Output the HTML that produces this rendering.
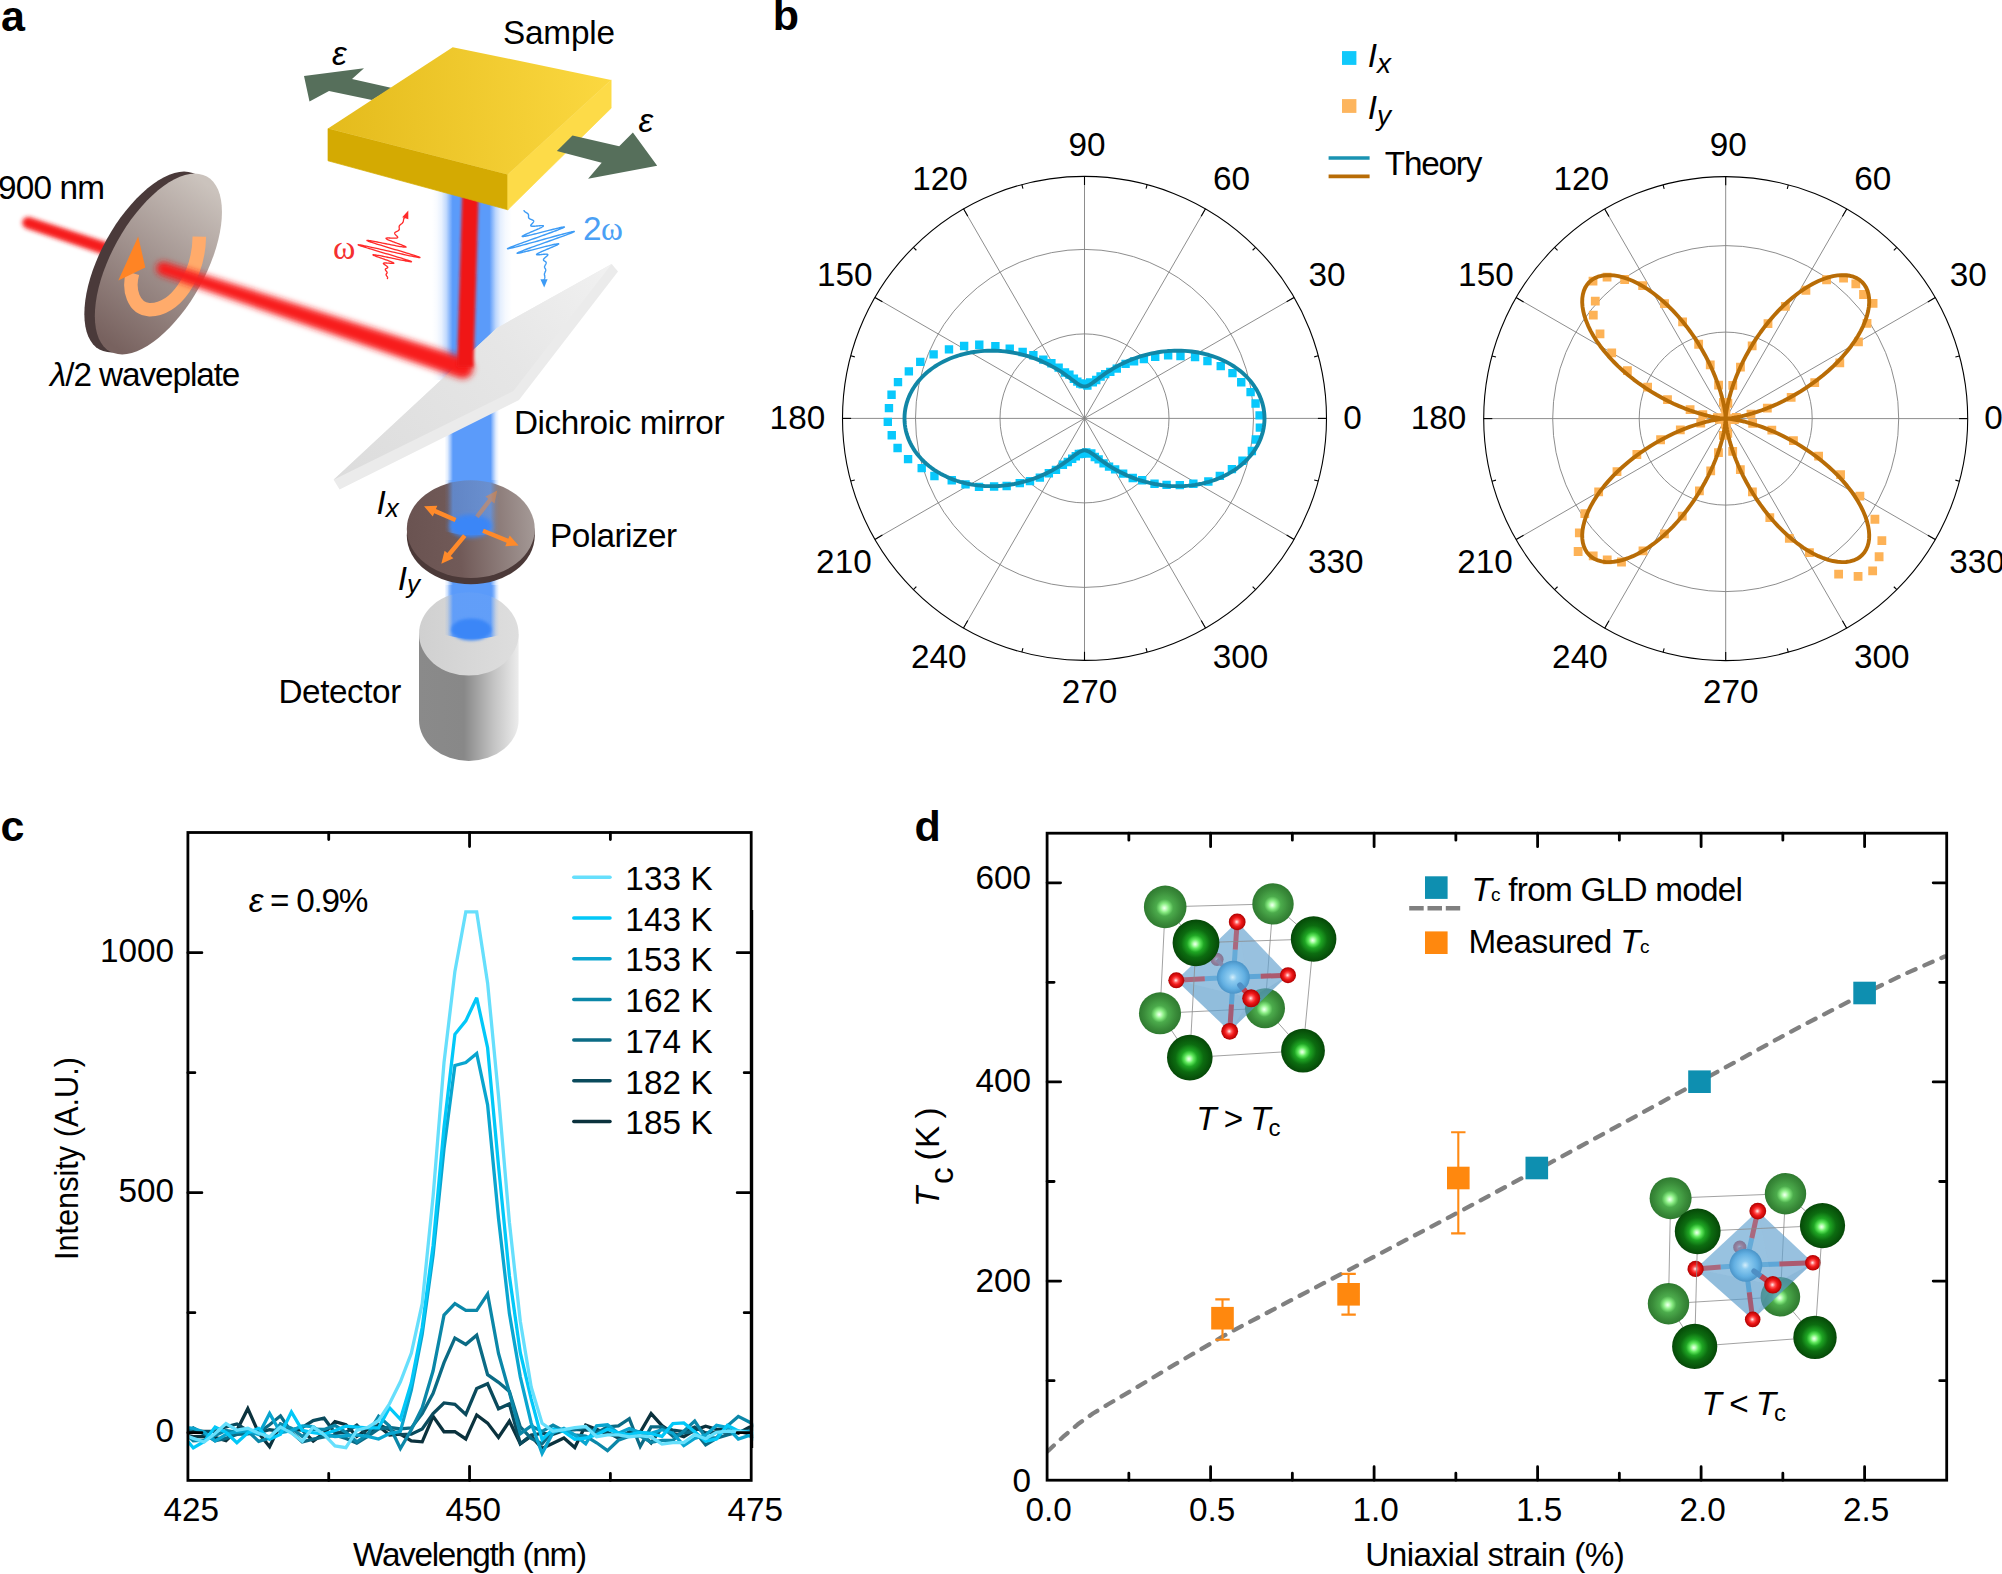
<!DOCTYPE html>
<html lang="en"><head><meta charset="utf-8"><title>Figure</title>
<style>html,body{margin:0;padding:0;background:#fff;}svg{display:block;}</style>
</head><body>
<svg width="2002" height="1574" viewBox="0 0 2002 1574">
<rect width="2002" height="1574" fill="#ffffff"/>
<g id="panel-a">
<defs><linearGradient id="gMir" gradientUnits="userSpaceOnUse" x1="334" y1="480" x2="612" y2="264"><stop offset="0" stop-color="#dcdcdc"/><stop offset="0.6" stop-color="#e6e6e6"/><stop offset="1" stop-color="#f1f1f1"/></linearGradient><linearGradient id="gSlabTop" gradientUnits="userSpaceOnUse" x1="328" y1="120" x2="612" y2="100"><stop offset="0" stop-color="#e4bb1c"/><stop offset="1" stop-color="#fbd840"/></linearGradient><linearGradient id="gWP" gradientUnits="userSpaceOnUse" x1="105" y1="340" x2="215" y2="190"><stop offset="0" stop-color="#78625f"/><stop offset="0.5" stop-color="#a1928e"/><stop offset="1" stop-color="#cbc3bd"/></linearGradient><linearGradient id="gPol" gradientUnits="userSpaceOnUse" x1="407" y1="530" x2="535" y2="520"><stop offset="0" stop-color="#6a5351"/><stop offset="0.4" stop-color="#715a58"/><stop offset="1" stop-color="#a59a97"/></linearGradient><linearGradient id="gDet" gradientUnits="userSpaceOnUse" x1="419" y1="0" x2="519" y2="0"><stop offset="0" stop-color="#8a8a8a"/><stop offset="0.45" stop-color="#888888"/><stop offset="0.75" stop-color="#c4c4c4"/><stop offset="1" stop-color="#ededed"/></linearGradient><linearGradient id="gDetTop" gradientUnits="userSpaceOnUse" x1="419" y1="0" x2="519" y2="0"><stop offset="0" stop-color="#d0d0d0"/><stop offset="1" stop-color="#dedede"/></linearGradient><linearGradient id="gBlueH" gradientUnits="userSpaceOnUse" x1="436" y1="0" x2="510" y2="0"><stop offset="0.0000" stop-color="#5b9bfa" stop-opacity="0"/><stop offset="0.1149" stop-color="#5b9bfa" stop-opacity="0"/><stop offset="0.1554" stop-color="#5b9bfa" stop-opacity="0.18"/><stop offset="0.1959" stop-color="#5b9bfa" stop-opacity="0.6"/><stop offset="0.2297" stop-color="#5b9bfa" stop-opacity="1"/><stop offset="0.7378" stop-color="#5b9bfa" stop-opacity="1"/><stop offset="0.7703" stop-color="#5b9bfa" stop-opacity="0.6"/><stop offset="0.8108" stop-color="#5b9bfa" stop-opacity="0.18"/><stop offset="0.8514" stop-color="#5b9bfa" stop-opacity="0"/><stop offset="1.0000" stop-color="#5b9bfa" stop-opacity="0"/></linearGradient><linearGradient id="gBlueH2" gradientUnits="userSpaceOnUse" x1="432" y1="0" x2="516" y2="0"><stop offset="0.0000" stop-color="#5b9bfa" stop-opacity="0"/><stop offset="0.0560" stop-color="#5b9bfa" stop-opacity="0.04"/><stop offset="0.1131" stop-color="#5b9bfa" stop-opacity="0.14"/><stop offset="0.1702" stop-color="#5b9bfa" stop-opacity="0.38"/><stop offset="0.2143" stop-color="#5b9bfa" stop-opacity="0.75"/><stop offset="0.2464" stop-color="#5b9bfa" stop-opacity="1"/><stop offset="0.6833" stop-color="#5b9bfa" stop-opacity="1"/><stop offset="0.7143" stop-color="#5b9bfa" stop-opacity="0.75"/><stop offset="0.7595" stop-color="#5b9bfa" stop-opacity="0.4"/><stop offset="0.8155" stop-color="#5b9bfa" stop-opacity="0.16"/><stop offset="0.8738" stop-color="#5b9bfa" stop-opacity="0.06"/><stop offset="0.9500" stop-color="#5b9bfa" stop-opacity="0"/></linearGradient><filter id="blur2" filterUnits="userSpaceOnUse" x="0" y="150" width="700" height="520"><feGaussianBlur stdDeviation="2"/></filter><filter id="blur3" filterUnits="userSpaceOnUse" x="0" y="150" width="700" height="520"><feGaussianBlur stdDeviation="3"/></filter><filter id="blur1" filterUnits="userSpaceOnUse" x="0" y="150" width="700" height="520"><feGaussianBlur stdDeviation="1.7"/></filter><filter id="blur4" filterUnits="userSpaceOnUse" x="0" y="150" width="700" height="520"><feGaussianBlur stdDeviation="4"/></filter></defs>
<rect x="432" y="190" width="84" height="190" fill="url(#gBlueH2)"/>
<rect x="436" y="380" width="74" height="255" fill="url(#gBlueH)"/>
<polygon points="333.6,479.8 497,328 611.7,264 618,271.5 519,400 339.6,489.6" fill="#ebebeb"/>
<polygon points="333.6,479.8 497,328 611.7,264 513.4,391" fill="url(#gMir)"/>
<g filter="url(#blur2)" fill="#f61c1c"><polygon points="26.18,228.25 147.94,269.67 152.06,257.33 29.82,217.35"/><circle cx="28" cy="222.8" r="5.75"/><circle cx="150" cy="263.5" r="6.5"/></g>
<polygon points="196.38,174.54 199.78,176.86 202.78,179.82 205.37,183.42 207.52,187.61 209.21,192.36 210.44,197.65 211.19,203.42 211.46,209.65 211.25,216.27 210.55,223.24 209.38,230.5 207.74,238 205.64,245.69 203.11,253.5 200.15,261.37 196.8,269.25 193.08,277.08 189.01,284.79 184.63,292.32 179.96,299.63 175.06,306.65 169.95,313.33 164.67,319.61 159.26,325.46 153.77,330.83 148.23,335.67 142.69,339.96 137.18,343.65 131.76,346.71 126.47,349.14 121.33,350.9 116.4,351.98 111.71,352.38 107.29,352.09 103.19,351.12 99.42,349.46 96.02,347.14 93.02,344.18 90.43,340.58 88.28,336.39 86.59,331.64 85.36,326.35 84.61,320.58 84.34,314.35 84.55,307.73 85.25,300.76 86.42,293.5 88.06,286 90.16,278.31 92.69,270.5 95.65,262.63 99,254.75 102.72,246.92 106.79,239.21 111.17,231.68 115.84,224.37 120.74,217.35 125.85,210.67 131.13,204.39 136.54,198.54 142.03,193.17 147.57,188.33 153.11,184.04 158.62,180.35 164.04,177.29 169.33,174.86 174.47,173.1 179.4,172.02 184.09,171.62 188.51,171.91 192.61,172.88" fill="#4a3a3a"/>
<polygon points="206.88,176.54 210.28,178.86 213.28,181.82 215.87,185.42 218.02,189.61 219.71,194.36 220.94,199.65 221.69,205.42 221.96,211.65 221.75,218.27 221.05,225.24 219.88,232.5 218.24,240 216.14,247.69 213.61,255.5 210.65,263.37 207.3,271.25 203.58,279.08 199.51,286.79 195.13,294.32 190.46,301.63 185.56,308.65 180.45,315.33 175.17,321.61 169.76,327.46 164.27,332.83 158.73,337.67 153.19,341.96 147.68,345.65 142.26,348.71 136.97,351.14 131.83,352.9 126.9,353.98 122.21,354.38 117.79,354.09 113.69,353.12 109.92,351.46 106.52,349.14 103.52,346.18 100.93,342.58 98.78,338.39 97.09,333.64 95.86,328.35 95.11,322.58 94.84,316.35 95.05,309.73 95.75,302.76 96.92,295.5 98.56,288 100.66,280.31 103.19,272.5 106.15,264.63 109.5,256.75 113.22,248.92 117.29,241.21 121.67,233.68 126.34,226.37 131.24,219.35 136.35,212.67 141.63,206.39 147.04,200.54 152.53,195.17 158.07,190.33 163.61,186.04 169.12,182.35 174.54,179.29 179.83,176.86 184.97,175.1 189.9,174.02 194.59,173.62 199.01,173.91 203.11,174.88" fill="url(#gWP)"/>
<path d="M199.33 236.56 C198.54 277.06 174.71 310.42 149.3 309.63 C133.42 308.83 127.86 289.77 132.62 273.09" fill="none" stroke="#ffab6b" stroke-width="13.5"/>
<polygon points="138.18,236.56 118.33,280.56 145.33,267.53" fill="#ff8424"/>
<g filter="url(#blur3)" fill="#f81c1c"><polygon points="160.87,275.01 459.77,377.93 466.23,358.47 165.13,262.19"/><circle cx="163" cy="268.6" r="6.75"/><circle cx="463" cy="368.2" r="10.25"/></g>
<line x1="465.3" y1="367" x2="470.4" y2="195" stroke="#f01418" stroke-width="16.5" filter="url(#blur1)"/>
<polygon points="304,76 364,68.2 352,79 392,88 372,100 329,91 309.5,101.4" fill="#566f5b"/>
<polygon points="328,128.6 507.8,174.4 507.8,209.8 328,160.8" fill="#d4aa02" stroke="#d4aa02" stroke-width="0.7"/>
<polygon points="507.8,174.4 611.1,79.9 611.1,108.2 507.8,209.8" fill="#fddb48" stroke="#fddb48" stroke-width="0.7"/>
<polygon points="452.7,47.2 611.1,79.9 507.8,174.4 328,128.6" fill="url(#gSlabTop)"/>
<polygon points="572.5,135.5 619.2,146.2 632.9,132.5 657.2,165.7 588.1,178.7 601.7,162.7 556.9,151" fill="#566f5b"/>
<ellipse cx="470.8" cy="535.5" rx="64" ry="48.8" fill="#4b3938"/>
<ellipse cx="470.8" cy="529.1" rx="64" ry="48.8" fill="url(#gPol)"/>
<path d="M436,480H510V524A37,11 0 0 1 436,524Z" fill="url(#gBlueH)" opacity="0.68"/>
<ellipse cx="470.8" cy="526" rx="21" ry="11.5" fill="#3b86f7" filter="url(#blur2)"/>
<polygon points="456.44,517.96 435.94,509.1 437.35,505.84 424.05,506.36 432.78,516.4 434.19,513.14 454.69,522" fill="#ff8a2a" opacity="1"/>
<polygon points="482.18,532.8 506.67,542.87 505.32,546.15 518.6,545.4 509.69,535.52 508.34,538.8 483.85,528.73" fill="#ff8a2a" opacity="1"/>
<polygon points="463.03,534.23 447.33,553.07 444.6,550.8 441.33,563.7 453.43,558.16 450.71,555.89 466.41,537.05" fill="#ff8a2a" opacity="1"/>
<polygon points="478.66,518.28 491.68,501.35 494.49,503.52 497.25,490.5 485.38,496.51 488.19,498.67 475.17,515.59" fill="#ff8a2a" opacity="0.45"/>
<path d="M419,634 L419,720 A49.8,41 0 0 0 518.6,720 L518.6,634 Z" fill="url(#gDet)"/>
<ellipse cx="468.8" cy="633.9" rx="49.8" ry="41.7" fill="url(#gDetTop)"/>
<path d="M436,585H510V627.5A37,11 0 0 1 436,627.5Z" fill="url(#gBlueH)" opacity="0.95"/>
<ellipse cx="471.3" cy="629.5" rx="20" ry="11" fill="#3b86f7" filter="url(#blur1)"/>
<polyline points="387.4,278.6 387.42,278.54 387.44,278.48 387.46,278.43 387.49,278.37 387.51,278.31 387.53,278.25 387.55,278.19 387.56,278.13 387.58,278.07 387.59,278.01 387.6,277.95 387.61,277.88 387.62,277.82 387.62,277.76 387.62,277.69 387.61,277.63 387.61,277.56 387.59,277.49 387.58,277.42 387.56,277.35 387.54,277.28 387.51,277.21 387.48,277.13 387.45,277.06 387.41,276.98 387.37,276.91 387.32,276.83 387.28,276.75 387.23,276.67 387.17,276.59 387.12,276.51 387.06,276.43 387.01,276.35 386.95,276.27 386.89,276.18 386.82,276.1 386.76,276.02 386.7,275.94 386.64,275.85 386.58,275.77 386.53,275.69 386.47,275.61 386.42,275.53 386.37,275.45 386.32,275.37 386.28,275.29 386.24,275.21 386.2,275.13 386.17,275.05 386.14,274.98 386.11,274.9 386.1,274.83 386.08,274.76 386.07,274.69 386.07,274.62 386.07,274.55 386.08,274.48 386.09,274.42 386.1,274.35 386.12,274.29 386.15,274.22 386.18,274.16 386.21,274.1 386.25,274.04 386.29,273.98 386.33,273.92 386.37,273.87 386.42,273.81 386.47,273.75 386.52,273.7 386.57,273.64 386.63,273.58 386.68,273.52 386.73,273.47 386.78,273.41 386.83,273.35 386.87,273.29 386.92,273.23 386.96,273.17 387,273.11 387.03,273.05 387.06,272.99 387.09,272.92 387.11,272.86 387.12,272.79 387.13,272.72 387.14,272.65 387.13,272.58 387.13,272.5 387.11,272.43 387.09,272.35 387.07,272.27 387.04,272.19 387,272.11 386.96,272.03 386.91,271.94 386.86,271.86 386.8,271.77 386.74,271.68 386.68,271.59 386.61,271.5 386.54,271.41 386.46,271.32 386.39,271.23 386.31,271.13 386.23,271.04 386.15,270.95 386.07,270.85 385.99,270.76 385.92,270.67 385.84,270.57 385.77,270.48 385.7,270.39 385.64,270.3 385.58,270.21 385.52,270.12 385.47,270.03 385.43,269.95 385.39,269.86 385.36,269.78 385.33,269.7 385.31,269.62 385.3,269.54 385.3,269.47 385.31,269.39 385.32,269.32 385.34,269.25 385.37,269.18 385.4,269.12 385.45,269.05 385.5,268.99 385.56,268.93 385.63,268.87 385.7,268.82 385.78,268.76 385.86,268.71 385.95,268.65 386.05,268.6 386.15,268.55 386.25,268.5 386.35,268.45 386.46,268.4 386.57,268.35 386.67,268.3 386.78,268.25 386.89,268.21 386.99,268.16 387.09,268.1 387.19,268.05 387.28,268 387.37,267.94 387.45,267.89 387.52,267.83 387.59,267.77 387.65,267.71 387.69,267.64 387.73,267.57 387.76,267.5 387.77,267.43 387.78,267.35 387.77,267.27 387.75,267.19 387.72,267.1 387.67,267.01 387.61,266.91 387.54,266.82 387.45,266.71 387.35,266.61 387.24,266.5 387.12,266.39 386.98,266.28 386.83,266.16 386.68,266.04 386.51,265.92 386.34,265.79 386.16,265.67 385.97,265.54 385.77,265.41 385.58,265.28 385.38,265.15 385.18,265.02 384.98,264.88 384.79,264.75 384.6,264.62 384.42,264.5 384.24,264.37 384.08,264.25 383.92,264.13 383.79,264.01 383.66,263.9 383.56,263.79 383.48,263.69 383.41,263.59 383.37,263.5 383.36,263.42 383.37,263.34 383.41,263.27 383.48,263.2 383.57,263.14 383.7,263.09 383.86,263.05 384.04,263.02 384.26,262.99 384.51,262.98 384.79,262.97 385.09,262.96 385.43,262.97 385.79,262.98 386.17,262.99 386.58,263.01 387,263.04 387.45,263.07 387.9,263.11 388.37,263.15 388.84,263.18 389.32,263.22 389.79,263.26 390.26,263.3 390.72,263.34 391.17,263.37 391.59,263.39 392,263.42 392.37,263.43 392.72,263.43 393.02,263.43 393.29,263.41 393.5,263.38 393.67,263.34 393.78,263.29 393.84,263.22 393.84,263.13 393.77,263.03 393.64,262.91 393.44,262.77 393.17,262.62 392.84,262.45 392.43,262.26 391.96,262.05 391.42,261.83 390.82,261.59 390.16,261.33 389.44,261.06 388.66,260.77 387.84,260.47 386.97,260.16 386.07,259.84 385.13,259.52 384.17,259.18 383.2,258.85 382.22,258.51 381.24,258.17 380.27,257.83 379.33,257.5 378.41,257.18 377.53,256.86 376.7,256.56 375.93,256.28 375.23,256.01 374.61,255.76 374.07,255.53 373.62,255.33 373.28,255.15 373.04,255 372.92,254.89 372.92,254.8 373.04,254.74 373.29,254.72 373.67,254.73 374.18,254.77 374.82,254.85 375.59,254.96 376.49,255.1 377.51,255.28 378.64,255.48 379.89,255.72 381.25,255.98 382.7,256.26 384.23,256.57 385.84,256.9 387.51,257.24 389.23,257.6 390.99,257.96 392.76,258.33 394.55,258.7 396.32,259.07 398.06,259.43 399.77,259.78 401.41,260.11 402.99,260.43 404.47,260.72 405.84,260.99 407.1,261.22 408.22,261.42 409.2,261.58 410.01,261.7 410.66,261.78 411.13,261.81 411.41,261.79 411.49,261.72 411.38,261.6 411.07,261.43 410.55,261.21 409.84,260.93 408.92,260.6 407.81,260.22 406.5,259.8 405.02,259.32 403.37,258.8 401.56,258.24 399.6,257.65 397.51,257.02 395.31,256.36 393.01,255.67 390.64,254.96 388.21,254.24 385.74,253.51 383.25,252.78 380.77,252.05 378.32,251.32 375.92,250.61 373.59,249.91 371.36,249.24 369.24,248.6 367.26,248 365.43,247.43 363.77,246.91 362.3,246.44 361.04,246.02 359.99,245.65 359.16,245.35 358.58,245.1 358.24,244.92 358.15,244.81 358.31,244.75 358.73,244.77 359.4,244.84 360.31,244.99 361.46,245.19 362.85,245.45 364.46,245.77 366.28,246.15 368.29,246.57 370.47,247.04 372.82,247.55 375.31,248.1 377.91,248.68 380.61,249.28 383.38,249.9 386.2,250.54 389.05,251.18 391.9,251.81 394.72,252.45 397.49,253.07 400.19,253.67 402.8,254.25 405.28,254.79 407.63,255.3 409.82,255.77 411.83,256.2 413.65,256.57 415.26,256.89 416.65,257.15 417.81,257.35 418.73,257.49 419.4,257.57 419.82,257.58 419.98,257.53 419.9,257.41 419.56,257.22 418.98,256.98 418.17,256.67 417.12,256.3 415.86,255.88 414.4,255.4 412.75,254.88 410.93,254.31 408.95,253.7 406.84,253.06 404.61,252.39 402.29,251.69 399.9,250.97 397.45,250.24 394.98,249.51 392.51,248.77 390.05,248.03 387.62,247.31 385.25,246.6 382.97,245.91 380.77,245.24 378.7,244.61 376.75,244.01 374.95,243.44 373.31,242.92 371.83,242.44 370.54,242.01 369.44,241.62 368.54,241.29 367.83,241.01 367.33,240.78 367.03,240.6 366.93,240.47 367.03,240.4 367.32,240.37 367.8,240.4 368.46,240.47 369.29,240.58 370.28,240.74 371.42,240.93 372.69,241.16 374.08,241.41 375.57,241.7 377.16,242.01 378.82,242.34 380.54,242.68 382.3,243.03 384.09,243.39 385.89,243.76 387.68,244.12 389.45,244.47 391.19,244.82 392.88,245.15 394.51,245.47 396.06,245.77 397.53,246.05 398.9,246.3 400.17,246.53 401.32,246.72 402.36,246.89 403.28,247.02 404.07,247.12 404.73,247.19 405.26,247.22 405.66,247.22 405.93,247.19 406.07,247.12 406.09,247.03 405.99,246.9 405.78,246.74 405.45,246.55 405.03,246.34 404.51,246.1 403.91,245.84 403.23,245.56 402.48,245.27 401.68,244.95 400.83,244.63 399.93,244.29 399.01,243.95 398.07,243.6 397.11,243.25 396.16,242.9 395.21,242.55 394.28,242.21 393.37,241.87 392.49,241.53 391.65,241.21 390.85,240.9 390.1,240.6 389.41,240.32 388.77,240.05 388.2,239.79 387.69,239.56 387.24,239.34 386.87,239.13 386.56,238.95 386.32,238.78 386.15,238.63 386.05,238.5 386.01,238.38 386.03,238.28 386.12,238.2 386.26,238.13 386.46,238.07 386.71,238.03 387,238 387.34,237.98 387.71,237.97 388.12,237.97 388.56,237.97 389.02,237.98 389.49,238 389.99,238.02 390.49,238.04 391,238.06 391.51,238.09 392.01,238.11 392.51,238.13 393,238.15 393.48,238.16 393.94,238.18 394.38,238.18 394.8,238.18 395.19,238.17 395.56,238.16 395.9,238.14 396.22,238.11 396.5,238.08 396.76,238.03 396.98,237.98 397.17,237.92 397.34,237.86 397.47,237.78 397.58,237.7 397.65,237.61 397.7,237.51 397.73,237.41 397.72,237.3 397.7,237.18 397.66,237.06 397.59,236.94 397.51,236.8 397.41,236.67 397.3,236.53 397.17,236.39 397.04,236.24 396.9,236.09 396.75,235.95 396.6,235.79 396.44,235.64 396.28,235.49 396.13,235.34 395.97,235.19 395.82,235.04 395.68,234.89 395.54,234.74 395.41,234.6 395.28,234.46 395.17,234.31 395.07,234.18 394.98,234.04 394.9,233.91 394.83,233.78 394.78,233.65 394.74,233.53 394.71,233.41 394.7,233.3 394.7,233.18 394.71,233.07 394.73,232.97 394.77,232.86 394.82,232.76 394.89,232.67 394.96,232.57 395.04,232.48 395.14,232.39 395.25,232.31 395.36,232.22 395.48,232.14 395.61,232.06 395.75,231.98 395.89,231.91 396.04,231.83 396.19,231.76 396.34,231.68 396.5,231.61 396.66,231.53 396.82,231.46 396.97,231.39 397.13,231.31 397.29,231.24 397.44,231.17 397.59,231.09 397.74,231.01 397.88,230.93 398.02,230.85 398.15,230.77 398.28,230.69 398.4,230.61 398.51,230.52 398.62,230.43 398.72,230.34 398.81,230.25 398.89,230.16 398.97,230.06 399.04,229.96 399.1,229.86 399.15,229.76 399.19,229.65 399.23,229.55 399.26,229.44 399.29,229.33 399.31,229.22 399.32,229.1 399.33,228.99 399.33,228.87 399.33,228.76 399.32,228.64 399.31,228.52 399.3,228.4 399.28,228.28 399.26,228.15 399.25,228.03 399.23,227.91 399.21,227.79 399.19,227.66 399.17,227.54 399.16,227.42 399.14,227.3 399.13,227.18 399.13,227.06 399.12,226.94 399.12,226.82 399.13,226.7 399.14,226.59 399.15,226.47 399.18,226.36 399.2,226.25 399.24,226.14 399.27,226.03 399.32,225.92 399.37,225.81 399.43,225.71 399.49,225.61 399.56,225.5 399.64,225.4 399.72,225.31 399.8,225.21 399.89,225.11 399.99,225.02 400.09,224.92 400.19,224.83 400.3,224.74 400.41,224.65 400.53,224.55 400.64,224.46 400.76,224.37 400.88,224.28 401,224.19 401.12,224.1 401.24,224.01 401.36,223.92 401.48,223.83 401.6,223.74 401.71,223.65 401.83,223.56 401.94,223.47 402.04,223.37 402.15,223.28 402.25,223.18 402.34,223.09 402.44,222.99 402.52,222.89 402.61,222.79 402.68,222.68 402.76,222.58 402.83,222.48 402.89,222.37 402.95,222.26 403.01,222.16 403.06,222.05 403.1,221.93 403.14,221.82 403.18,221.71 403.21,221.59 403.25,221.48 403.27,221.36 403.3,221.25 403.32,221.13 403.34,221.01 403.36,220.89 403.38,220.77 403.4,220.65 403.41,220.53 403.43,220.41 403.45,220.29 403.46,220.17 403.48,220.05 403.5,219.94 403.52,219.82 403.55,219.7 403.57,219.58 403.6,219.46 403.64,219.35 403.67,219.23 403.71,219.12 403.75,219 403.8,218.89 403.85,218.78 403.91,218.67 403.96,218.55 404.03,218.45 404.09,218.34 404.16,218.23 404.24,218.12 404.32,218.02 404.4,217.91 404.48,217.81 404.57,217.7 404.66,217.6 404.76,217.5 404.85,217.4 404.95,217.3 405.06,217.2 405.16,217.1 405.26,217 405.37,216.9 405.48,216.8 405.58,216.7 405.69,216.6 405.8,216.5" fill="none" stroke="#ff2a2a" stroke-width="1.3" stroke-linejoin="round" stroke-linecap="round"/>
<polygon points="408.3,210.5 402.2,217.3 408.3,219.2" fill="#ff2a2a"/>
<polyline points="524.05,210.67 524.11,210.77 524.17,210.87 524.24,210.97 524.31,211.07 524.38,211.17 524.46,211.26 524.55,211.36 524.63,211.45 524.73,211.54 524.83,211.63 524.93,211.71 525.03,211.8 525.14,211.89 525.26,211.97 525.38,212.05 525.5,212.13 525.62,212.21 525.74,212.29 525.87,212.37 526,212.45 526.13,212.53 526.26,212.61 526.39,212.69 526.52,212.77 526.65,212.84 526.78,212.92 526.91,213 527.03,213.08 527.15,213.16 527.27,213.25 527.38,213.33 527.49,213.41 527.6,213.5 527.7,213.59 527.8,213.67 527.89,213.76 527.97,213.86 528.05,213.95 528.13,214.05 528.19,214.14 528.26,214.24 528.31,214.34 528.36,214.45 528.4,214.55 528.44,214.66 528.47,214.77 528.5,214.88 528.52,214.99 528.54,215.1 528.55,215.22 528.56,215.33 528.56,215.45 528.56,215.57 528.56,215.69 528.56,215.81 528.55,215.93 528.54,216.05 528.54,216.17 528.53,216.29 528.52,216.41 528.51,216.53 528.51,216.65 528.51,216.77 528.51,216.89 528.51,217 528.52,217.12 528.53,217.23 528.55,217.34 528.57,217.45 528.6,217.56 528.63,217.67 528.68,217.78 528.72,217.88 528.78,217.98 528.84,218.08 528.91,218.17 528.99,218.26 529.08,218.36 529.17,218.44 529.27,218.53 529.38,218.61 529.5,218.69 529.62,218.77 529.75,218.85 529.88,218.92 530.03,219 530.17,219.07 530.33,219.14 530.48,219.2 530.64,219.27 530.81,219.34 530.97,219.4 531.14,219.47 531.31,219.53 531.48,219.59 531.65,219.66 531.82,219.72 531.98,219.79 532.15,219.85 532.3,219.92 532.46,219.99 532.61,220.06 532.75,220.13 532.88,220.21 533.01,220.28 533.12,220.36 533.23,220.45 533.33,220.53 533.41,220.62 533.49,220.72 533.55,220.81 533.6,220.91 533.63,221.02 533.66,221.13 533.67,221.24 533.66,221.36 533.64,221.48 533.61,221.61 533.56,221.74 533.51,221.87 533.43,222.01 533.35,222.16 533.25,222.3 533.15,222.45 533.03,222.61 532.9,222.76 532.77,222.92 532.62,223.08 532.48,223.24 532.32,223.41 532.17,223.57 532.01,223.74 531.86,223.9 531.71,224.07 531.56,224.23 531.42,224.39 531.28,224.55 531.16,224.7 531.05,224.85 530.95,225 530.87,225.14 530.81,225.27 530.77,225.4 530.75,225.52 530.75,225.64 530.78,225.74 530.84,225.84 530.92,225.93 531.04,226.01 531.19,226.08 531.36,226.14 531.57,226.19 531.81,226.23 532.09,226.26 532.39,226.28 532.73,226.29 533.09,226.29 533.49,226.28 533.91,226.26 534.36,226.23 534.83,226.2 535.32,226.16 535.83,226.12 536.36,226.07 536.89,226.01 537.44,225.96 537.98,225.9 538.53,225.84 539.07,225.79 539.6,225.74 540.12,225.69 540.61,225.65 541.08,225.61 541.52,225.59 541.93,225.58 542.3,225.58 542.62,225.59 542.89,225.62 543.11,225.66 543.27,225.73 543.37,225.81 543.41,225.91 543.38,226.04 543.27,226.18 543.1,226.35 542.86,226.55 542.54,226.76 542.14,227 541.68,227.26 541.14,227.54 540.53,227.85 539.86,228.17 539.13,228.52 538.33,228.88 537.49,229.26 536.6,229.66 535.66,230.06 534.7,230.48 533.71,230.91 532.7,231.34 531.68,231.77 530.67,232.2 529.66,232.63 528.68,233.06 527.73,233.47 526.82,233.87 525.96,234.25 525.17,234.62 524.44,234.96 523.8,235.27 523.25,235.56 522.8,235.81 522.46,236.04 522.23,236.22 522.13,236.37 522.15,236.47 522.31,236.54 522.61,236.56 523.04,236.53 523.61,236.47 524.32,236.36 525.18,236.2 526.16,236 527.28,235.76 528.53,235.49 529.9,235.17 531.38,234.82 532.96,234.43 534.63,234.02 536.38,233.58 538.2,233.12 540.07,232.65 541.98,232.16 543.91,231.67 545.85,231.17 547.78,230.68 549.68,230.19 551.53,229.72 553.32,229.27 555.04,228.84 556.65,228.45 558.15,228.09 559.53,227.77 560.76,227.5 561.83,227.27 562.73,227.1 563.44,226.99 563.97,226.94 564.29,226.95 564.4,227.02 564.3,227.17 563.99,227.38 563.45,227.66 562.7,228.01 561.73,228.43 560.55,228.91 559.17,229.46 557.6,230.06 555.84,230.73 553.91,231.45 551.82,232.22 549.59,233.03 547.24,233.88 544.78,234.77 542.24,235.68 539.64,236.61 537,237.55 534.34,238.5 531.68,239.44 529.06,240.38 526.49,241.3 524,242.2 521.61,243.06 519.34,243.88 517.22,244.66 515.26,245.39 513.49,246.06 511.92,246.66 510.57,247.2 509.45,247.66 508.58,248.05 507.96,248.36 507.6,248.58 507.52,248.72 507.7,248.77 508.16,248.74 508.89,248.62 509.88,248.42 511.13,248.14 512.63,247.78 514.37,247.34 516.33,246.83 518.51,246.26 520.87,245.63 523.4,244.94 526.09,244.21 528.9,243.44 531.81,242.63 534.8,241.8 537.84,240.96 540.91,240.1 543.98,239.25 547.03,238.4 550.02,237.57 552.93,236.77 555.74,236 558.42,235.26 560.95,234.58 563.31,233.95 565.48,233.37 567.44,232.87 569.18,232.43 570.68,232.07 571.93,231.79 572.92,231.59 573.64,231.47 574.09,231.44 574.27,231.49 574.18,231.63 573.82,231.86 573.2,232.16 572.32,232.55 571.19,233.01 569.84,233.55 568.26,234.16 566.48,234.83 564.52,235.55 562.39,236.33 560.11,237.16 557.72,238.02 555.22,238.92 552.64,239.84 550.01,240.78 547.35,241.72 544.68,242.67 542.03,243.62 539.41,244.55 536.86,245.46 534.4,246.34 532.04,247.2 529.8,248.01 527.7,248.78 525.75,249.5 523.98,250.17 522.4,250.78 521,251.32 519.81,251.81 518.83,252.22 518.07,252.57 517.52,252.86 517.19,253.07 517.08,253.21 517.18,253.29 517.49,253.3 518,253.25 518.7,253.14 519.58,252.97 520.64,252.75 521.85,252.48 523.21,252.16 524.7,251.8 526.29,251.41 527.99,250.98 529.77,250.53 531.6,250.07 533.49,249.58 535.4,249.09 537.32,248.6 539.23,248.1 541.12,247.62 542.97,247.14 544.77,246.69 546.51,246.25 548.16,245.84 549.72,245.46 551.18,245.11 552.53,244.79 553.75,244.51 554.85,244.28 555.82,244.08 556.65,243.93 557.34,243.82 557.89,243.75 558.3,243.73 558.57,243.76 558.71,243.82 558.71,243.93 558.58,244.08 558.33,244.26 557.97,244.49 557.5,244.75 556.92,245.03 556.26,245.35 555.51,245.69 554.69,246.06 553.8,246.45 552.87,246.85 551.89,247.26 550.88,247.69 549.85,248.12 548.81,248.56 547.77,248.99 546.73,249.43 545.71,249.85 544.72,250.27 543.76,250.68 542.84,251.08 541.96,251.46 541.14,251.83 540.38,252.18 539.68,252.51 539.04,252.81 538.48,253.1 537.98,253.36 537.56,253.6 537.21,253.82 536.93,254.01 536.73,254.19 536.59,254.33 536.53,254.46 536.53,254.57 536.6,254.65 536.73,254.72 536.92,254.77 537.16,254.8 537.45,254.82 537.78,254.82 538.15,254.81 538.56,254.79 538.99,254.76 539.46,254.72 539.94,254.68 540.43,254.63 540.94,254.58 541.45,254.52 541.96,254.47 542.46,254.41 542.96,254.36 543.45,254.32 543.93,254.28 544.38,254.24 544.82,254.21 545.23,254.19 545.61,254.17 545.97,254.17 546.3,254.17 546.59,254.18 546.86,254.21 547.09,254.24 547.29,254.28 547.46,254.34 547.6,254.4 547.7,254.47 547.78,254.55 547.82,254.65 547.84,254.75 547.83,254.86 547.79,254.98 547.73,255.1 547.64,255.23 547.54,255.37 547.42,255.52 547.28,255.67 547.12,255.82 546.96,255.98 546.78,256.14 546.59,256.31 546.4,256.47 546.2,256.64 546,256.81 545.8,256.98 545.6,257.15 545.4,257.31 545.21,257.48 545.02,257.65 544.84,257.81 544.67,257.97 544.5,258.13 544.35,258.28 544.2,258.43 544.07,258.58 543.95,258.72 543.84,258.86 543.75,259 543.67,259.13 543.6,259.25 543.54,259.38 543.5,259.49 543.48,259.61 543.46,259.72 543.46,259.82 543.47,259.92 543.49,260.02 543.53,260.12 543.57,260.21 543.63,260.3 543.69,260.38 543.77,260.46 543.85,260.54 543.94,260.62 544.03,260.69 544.13,260.77 544.24,260.84 544.34,260.91 544.46,260.98 544.57,261.05 544.68,261.12 544.8,261.19 544.91,261.25 545.02,261.32 545.13,261.39 545.24,261.46 545.35,261.54 545.45,261.61 545.54,261.68 545.63,261.76 545.72,261.84 545.79,261.92 545.87,262 545.93,262.08 545.99,262.17 546.04,262.26 546.08,262.35 546.11,262.44 546.14,262.54 546.16,262.64 546.17,262.74 546.17,262.84 546.16,262.95 546.15,263.05 546.13,263.16 546.11,263.28 546.07,263.39 546.03,263.51 545.99,263.62 545.94,263.74 545.88,263.87 545.82,263.99 545.76,264.11 545.69,264.24 545.63,264.36 545.56,264.49 545.48,264.61 545.41,264.74 545.34,264.87 545.27,264.99 545.19,265.12 545.12,265.24 545.06,265.37 544.99,265.49 544.93,265.62 544.87,265.74 544.81,265.86 544.76,265.98 544.72,266.1 544.67,266.21 544.64,266.33 544.61,266.44 544.58,266.55 544.56,266.66 544.55,266.77 544.54,266.87 544.54,266.98 544.54,267.08 544.55,267.18 544.57,267.28 544.59,267.37 544.61,267.47 544.64,267.56 544.68,267.65 544.72,267.74 544.76,267.83 544.8,267.92 544.85,268.01 544.9,268.09 544.95,268.18 545.01,268.27 545.06,268.35 545.12,268.44 545.18,268.52 545.23,268.61 545.29,268.69 545.34,268.78 545.39,268.86 545.44,268.95 545.49,269.04 545.53,269.12 545.58,269.21 545.61,269.3 545.65,269.4 545.68,269.49 545.7,269.58 545.72,269.68 545.74,269.78 545.75,269.88 545.75,269.98 545.75,270.08 545.75,270.18 545.74,270.29 545.72,270.39 545.71,270.5 545.68,270.61 545.65,270.72 545.62,270.83 545.59,270.94 545.55,271.06 545.51,271.17 545.46,271.29 545.41,271.41 545.36,271.52 545.31,271.64 545.26,271.76 545.2,271.88 545.15,272 545.09,272.11 545.04,272.23 544.98,272.35 544.93,272.47 544.88,272.59 544.82,272.71 544.77,272.82 544.73,272.94 544.68,273.05 544.64,273.17 544.6,273.28 544.57,273.39 544.53,273.51 544.5,273.62 544.48,273.72 544.46,273.83 544.44,273.94 544.42,274.04 544.41,274.15 544.41,274.25 544.4,274.35 544.4,274.45 544.4,274.55 544.41,274.65 544.42,274.75 544.43,274.85 544.45,274.94 544.47,275.04 544.48,275.13 544.51,275.23 544.53,275.32 544.55,275.41 544.58,275.51 544.6,275.6 544.63,275.69 544.65,275.78 544.68,275.88 544.7,275.97 544.73,276.06 544.75,276.15 544.77,276.25 544.79,276.34 544.8,276.44 544.82,276.53 544.83,276.63 544.84,276.73 544.85,276.82 544.85,276.92 544.85,277.02 544.85,277.12 544.85,277.22 544.84,277.33 544.83,277.43 544.81,277.53 544.79,277.64 544.77,277.75 544.75,277.85 544.72,277.96 544.69,278.07 544.66,278.18 544.63,278.29 544.59,278.4 544.55,278.51 544.51,278.63 544.47,278.74 544.43,278.85 544.38,278.96 544.34,279.08 544.29,279.19 544.25,279.31 544.2,279.42 544.15,279.53 544.11,279.65 544.06,279.76 544.02,279.87 543.98,279.99 543.93,280.1 543.89,280.21 543.85,280.32 543.81,280.43 543.78,280.54 543.74,280.65 543.71,280.76 543.68,280.87 543.65,280.98 543.63,281.09" fill="none" stroke="#3d9bf5" stroke-width="1.4" stroke-linejoin="round" stroke-linecap="round"/>
<polygon points="544.2,287.5 540.4,279.3 547.6,279.3" fill="#3d9bf5"/>
<g font-family="'Liberation Sans', sans-serif" fill="#000">
<text x="1" y="31.2" font-size="43" text-anchor="start" font-weight="bold">a</text>
<text x="503" y="43.6" font-size="33.3" text-anchor="start" textLength="112" lengthAdjust="spacing" >Sample</text>
<text x="-2" y="198.7" font-size="33.3" text-anchor="start" textLength="107" lengthAdjust="spacing" >900 nm</text>
<text x="50" y="385.7" font-size="33.3" text-anchor="start" textLength="190.4" lengthAdjust="spacing" ><tspan font-style="italic">λ</tspan>/2 waveplate</text>
<text x="514" y="434" font-size="33.3" text-anchor="start" textLength="210.5" lengthAdjust="spacing" >Dichroic mirror</text>
<text x="550" y="546.8" font-size="33.3" text-anchor="start" textLength="127" lengthAdjust="spacing" >Polarizer</text>
<text x="278.5" y="702.6" font-size="33.3" text-anchor="start" textLength="122.8" lengthAdjust="spacing" >Detector</text>
<text x="332" y="65.3" font-size="33.3" text-anchor="start" font-style="italic">ε</text>
<text x="638.5" y="131.8" font-size="33.3" text-anchor="start" font-style="italic">ε</text>
<text x="376.5" y="513.9" font-size="33.3" font-style="italic">I<tspan font-size="26" dy="3">x</tspan></text>
<text x="397.8" y="590.1" font-size="33.3" font-style="italic">I<tspan font-size="26" dy="3.2">y</tspan></text>
<text x="583" y="239.6" font-size="33.3" text-anchor="start" fill="#4aa0f5">2</text>
</g>
<text x="333" y="258.5" font-size="34" font-family="'Liberation Serif', serif" fill="#f53030">ω</text>
<text x="601" y="239.6" font-size="33.3" font-family="'Liberation Serif', serif" fill="#4aa0f5">ω</text>
</g>
<g id="panel-b" font-family="'Liberation Sans', sans-serif" fill="#000">
<text x="772.8" y="30.4" font-size="43" text-anchor="start" font-weight="bold">b</text>
<circle cx="1084.5" cy="418.4" r="84.5" fill="none" stroke="#808080" stroke-width="0.9"/>
<circle cx="1084.5" cy="418.4" r="169" fill="none" stroke="#808080" stroke-width="0.9"/>
<line x1="1084.5" y1="418.4" x2="1326.5" y2="418.4" stroke="#808080" stroke-width="0.9"/>
<line x1="1084.5" y1="418.4" x2="1294.08" y2="297.4" stroke="#808080" stroke-width="0.9"/>
<line x1="1084.5" y1="418.4" x2="1205.5" y2="208.82" stroke="#808080" stroke-width="0.9"/>
<line x1="1084.5" y1="418.4" x2="1084.5" y2="176.4" stroke="#808080" stroke-width="0.9"/>
<line x1="1084.5" y1="418.4" x2="963.5" y2="208.82" stroke="#808080" stroke-width="0.9"/>
<line x1="1084.5" y1="418.4" x2="874.92" y2="297.4" stroke="#808080" stroke-width="0.9"/>
<line x1="1084.5" y1="418.4" x2="842.5" y2="418.4" stroke="#808080" stroke-width="0.9"/>
<line x1="1084.5" y1="418.4" x2="874.92" y2="539.4" stroke="#808080" stroke-width="0.9"/>
<line x1="1084.5" y1="418.4" x2="963.5" y2="627.98" stroke="#808080" stroke-width="0.9"/>
<line x1="1084.5" y1="418.4" x2="1084.5" y2="660.4" stroke="#808080" stroke-width="0.9"/>
<line x1="1084.5" y1="418.4" x2="1205.5" y2="627.98" stroke="#808080" stroke-width="0.9"/>
<line x1="1084.5" y1="418.4" x2="1294.08" y2="539.4" stroke="#808080" stroke-width="0.9"/>
<circle cx="1084.5" cy="418.4" r="242" fill="none" stroke="#000" stroke-width="1.1"/>
<line x1="1326.5" y1="418.4" x2="1317.9" y2="418.4" stroke="#000" stroke-width="1.1"/>
<line x1="1318.25" y1="355.77" x2="1314.2" y2="356.85" stroke="#000" stroke-width="1.1"/>
<line x1="1294.08" y1="297.4" x2="1286.63" y2="301.7" stroke="#000" stroke-width="1.1"/>
<line x1="1255.62" y1="247.28" x2="1252.65" y2="250.25" stroke="#000" stroke-width="1.1"/>
<line x1="1205.5" y1="208.82" x2="1201.2" y2="216.27" stroke="#000" stroke-width="1.1"/>
<line x1="1147.13" y1="184.65" x2="1146.05" y2="188.7" stroke="#000" stroke-width="1.1"/>
<line x1="1084.5" y1="176.4" x2="1084.5" y2="185" stroke="#000" stroke-width="1.1"/>
<line x1="1021.87" y1="184.65" x2="1022.95" y2="188.7" stroke="#000" stroke-width="1.1"/>
<line x1="963.5" y1="208.82" x2="967.8" y2="216.27" stroke="#000" stroke-width="1.1"/>
<line x1="913.38" y1="247.28" x2="916.35" y2="250.25" stroke="#000" stroke-width="1.1"/>
<line x1="874.92" y1="297.4" x2="882.37" y2="301.7" stroke="#000" stroke-width="1.1"/>
<line x1="850.75" y1="355.77" x2="854.8" y2="356.85" stroke="#000" stroke-width="1.1"/>
<line x1="842.5" y1="418.4" x2="851.1" y2="418.4" stroke="#000" stroke-width="1.1"/>
<line x1="850.75" y1="481.03" x2="854.8" y2="479.95" stroke="#000" stroke-width="1.1"/>
<line x1="874.92" y1="539.4" x2="882.37" y2="535.1" stroke="#000" stroke-width="1.1"/>
<line x1="913.38" y1="589.52" x2="916.35" y2="586.55" stroke="#000" stroke-width="1.1"/>
<line x1="963.5" y1="627.98" x2="967.8" y2="620.53" stroke="#000" stroke-width="1.1"/>
<line x1="1021.87" y1="652.15" x2="1022.95" y2="648.1" stroke="#000" stroke-width="1.1"/>
<line x1="1084.5" y1="660.4" x2="1084.5" y2="651.8" stroke="#000" stroke-width="1.1"/>
<line x1="1147.13" y1="652.15" x2="1146.05" y2="648.1" stroke="#000" stroke-width="1.1"/>
<line x1="1205.5" y1="627.98" x2="1201.2" y2="620.53" stroke="#000" stroke-width="1.1"/>
<line x1="1255.62" y1="589.52" x2="1252.65" y2="586.55" stroke="#000" stroke-width="1.1"/>
<line x1="1294.08" y1="539.4" x2="1286.63" y2="535.1" stroke="#000" stroke-width="1.1"/>
<line x1="1318.25" y1="481.03" x2="1314.2" y2="479.95" stroke="#000" stroke-width="1.1"/>
<text x="1087" y="155.8" font-size="33.3" text-anchor="middle" >90</text>
<text x="940" y="190.2" font-size="33.3" text-anchor="middle" >120</text>
<text x="1231.5" y="190.2" font-size="33.3" text-anchor="middle" >60</text>
<text x="844.7" y="285.6" font-size="33.3" text-anchor="middle" >150</text>
<text x="1327" y="285.6" font-size="33.3" text-anchor="middle" >30</text>
<text x="797.4" y="429.3" font-size="33.3" text-anchor="middle" >180</text>
<text x="1352.4" y="429.3" font-size="33.3" text-anchor="middle" >0</text>
<text x="843.9" y="573" font-size="33.3" text-anchor="middle" >210</text>
<text x="1335.8" y="573" font-size="33.3" text-anchor="middle" >330</text>
<text x="938.7" y="667.8" font-size="33.3" text-anchor="middle" >240</text>
<text x="1240.6" y="667.8" font-size="33.3" text-anchor="middle" >300</text>
<text x="1089.6" y="703" font-size="33.3" text-anchor="middle" >270</text>
<circle cx="1725.7" cy="418.6" r="86.5" fill="none" stroke="#808080" stroke-width="0.9"/>
<circle cx="1725.7" cy="418.6" r="173" fill="none" stroke="#808080" stroke-width="0.9"/>
<line x1="1725.7" y1="418.6" x2="1967.7" y2="418.6" stroke="#808080" stroke-width="0.9"/>
<line x1="1725.7" y1="418.6" x2="1935.28" y2="297.6" stroke="#808080" stroke-width="0.9"/>
<line x1="1725.7" y1="418.6" x2="1846.7" y2="209.02" stroke="#808080" stroke-width="0.9"/>
<line x1="1725.7" y1="418.6" x2="1725.7" y2="176.6" stroke="#808080" stroke-width="0.9"/>
<line x1="1725.7" y1="418.6" x2="1604.7" y2="209.02" stroke="#808080" stroke-width="0.9"/>
<line x1="1725.7" y1="418.6" x2="1516.12" y2="297.6" stroke="#808080" stroke-width="0.9"/>
<line x1="1725.7" y1="418.6" x2="1483.7" y2="418.6" stroke="#808080" stroke-width="0.9"/>
<line x1="1725.7" y1="418.6" x2="1516.12" y2="539.6" stroke="#808080" stroke-width="0.9"/>
<line x1="1725.7" y1="418.6" x2="1604.7" y2="628.18" stroke="#808080" stroke-width="0.9"/>
<line x1="1725.7" y1="418.6" x2="1725.7" y2="660.6" stroke="#808080" stroke-width="0.9"/>
<line x1="1725.7" y1="418.6" x2="1846.7" y2="628.18" stroke="#808080" stroke-width="0.9"/>
<line x1="1725.7" y1="418.6" x2="1935.28" y2="539.6" stroke="#808080" stroke-width="0.9"/>
<circle cx="1725.7" cy="418.6" r="242" fill="none" stroke="#000" stroke-width="1.1"/>
<line x1="1967.7" y1="418.6" x2="1959.1" y2="418.6" stroke="#000" stroke-width="1.1"/>
<line x1="1959.45" y1="355.97" x2="1955.4" y2="357.05" stroke="#000" stroke-width="1.1"/>
<line x1="1935.28" y1="297.6" x2="1927.83" y2="301.9" stroke="#000" stroke-width="1.1"/>
<line x1="1896.82" y1="247.48" x2="1893.85" y2="250.45" stroke="#000" stroke-width="1.1"/>
<line x1="1846.7" y1="209.02" x2="1842.4" y2="216.47" stroke="#000" stroke-width="1.1"/>
<line x1="1788.33" y1="184.85" x2="1787.25" y2="188.9" stroke="#000" stroke-width="1.1"/>
<line x1="1725.7" y1="176.6" x2="1725.7" y2="185.2" stroke="#000" stroke-width="1.1"/>
<line x1="1663.07" y1="184.85" x2="1664.15" y2="188.9" stroke="#000" stroke-width="1.1"/>
<line x1="1604.7" y1="209.02" x2="1609" y2="216.47" stroke="#000" stroke-width="1.1"/>
<line x1="1554.58" y1="247.48" x2="1557.55" y2="250.45" stroke="#000" stroke-width="1.1"/>
<line x1="1516.12" y1="297.6" x2="1523.57" y2="301.9" stroke="#000" stroke-width="1.1"/>
<line x1="1491.95" y1="355.97" x2="1496" y2="357.05" stroke="#000" stroke-width="1.1"/>
<line x1="1483.7" y1="418.6" x2="1492.3" y2="418.6" stroke="#000" stroke-width="1.1"/>
<line x1="1491.95" y1="481.23" x2="1496" y2="480.15" stroke="#000" stroke-width="1.1"/>
<line x1="1516.12" y1="539.6" x2="1523.57" y2="535.3" stroke="#000" stroke-width="1.1"/>
<line x1="1554.58" y1="589.72" x2="1557.55" y2="586.75" stroke="#000" stroke-width="1.1"/>
<line x1="1604.7" y1="628.18" x2="1609" y2="620.73" stroke="#000" stroke-width="1.1"/>
<line x1="1663.07" y1="652.35" x2="1664.15" y2="648.3" stroke="#000" stroke-width="1.1"/>
<line x1="1725.7" y1="660.6" x2="1725.7" y2="652" stroke="#000" stroke-width="1.1"/>
<line x1="1788.33" y1="652.35" x2="1787.25" y2="648.3" stroke="#000" stroke-width="1.1"/>
<line x1="1846.7" y1="628.18" x2="1842.4" y2="620.73" stroke="#000" stroke-width="1.1"/>
<line x1="1896.82" y1="589.72" x2="1893.85" y2="586.75" stroke="#000" stroke-width="1.1"/>
<line x1="1935.28" y1="539.6" x2="1927.83" y2="535.3" stroke="#000" stroke-width="1.1"/>
<line x1="1959.45" y1="481.23" x2="1955.4" y2="480.15" stroke="#000" stroke-width="1.1"/>
<text x="1728.2" y="155.8" font-size="33.3" text-anchor="middle" >90</text>
<text x="1581.2" y="190.2" font-size="33.3" text-anchor="middle" >120</text>
<text x="1872.7" y="190.2" font-size="33.3" text-anchor="middle" >60</text>
<text x="1485.9" y="285.6" font-size="33.3" text-anchor="middle" >150</text>
<text x="1968.2" y="285.6" font-size="33.3" text-anchor="middle" >30</text>
<text x="1438.6" y="429.3" font-size="33.3" text-anchor="middle" >180</text>
<text x="1993.6" y="429.3" font-size="33.3" text-anchor="middle" >0</text>
<text x="1485.1" y="573" font-size="33.3" text-anchor="middle" >210</text>
<text x="1977" y="573" font-size="33.3" text-anchor="middle" >330</text>
<text x="1579.9" y="667.8" font-size="33.3" text-anchor="middle" >240</text>
<text x="1881.8" y="667.8" font-size="33.3" text-anchor="middle" >300</text>
<text x="1730.8" y="703" font-size="33.3" text-anchor="middle" >270</text>
<path d="M1255.41 411.14h8.4v8.4h-8.4zM1251.36 399.23h8.4v8.4h-8.4zM1246.39 387.89h8.4v8.4h-8.4zM1237.05 378.01h8.4v8.4h-8.4zM1228.27 368.96h8.4v8.4h-8.4zM1216.54 361.9h8.4v8.4h-8.4zM1203.26 356.86h8.4v8.4h-8.4zM1190.86 352.92h8.4v8.4h-8.4zM1176.27 351.88h8.4v8.4h-8.4zM1163.94 351.17h8.4v8.4h-8.4zM1151.02 352.72h8.4v8.4h-8.4zM1139.67 354.83h8.4v8.4h-8.4zM1129.87 357.17h8.4v8.4h-8.4zM1121.39 359.67h8.4v8.4h-8.4zM1112.6 364.46h8.4v8.4h-8.4zM1106.11 367.64h8.4v8.4h-8.4zM1100.97 369.88h8.4v8.4h-8.4zM1096.38 372.31h8.4v8.4h-8.4zM1092.05 375.76h8.4v8.4h-8.4zM1088.61 378.2h8.4v8.4h-8.4zM1086 378.22h8.4v8.4h-8.4zM1083.18 381.24h8.4v8.4h-8.4zM1080.91 379.42h8.4v8.4h-8.4zM1078.52 380.21h8.4v8.4h-8.4zM1076.01 379.3h8.4v8.4h-8.4zM1073.16 377.46h8.4v8.4h-8.4zM1069.68 374.57h8.4v8.4h-8.4zM1065.21 370.38h8.4v8.4h-8.4zM1060.8 368.26h8.4v8.4h-8.4zM1054.43 363.43h8.4v8.4h-8.4zM1047.2 359.12h8.4v8.4h-8.4zM1039.14 355.42h8.4v8.4h-8.4zM1029.16 351.05h8.4v8.4h-8.4zM1018.44 347.86h8.4v8.4h-8.4zM1005.54 344.48h8.4v8.4h-8.4zM991.18 342.03h8.4v8.4h-8.4zM975.08 340.52h8.4v8.4h-8.4zM959.93 341.87h8.4v8.4h-8.4zM944.78 345.15h8.4v8.4h-8.4zM929.41 350.15h8.4v8.4h-8.4zM916.07 357.65h8.4v8.4h-8.4zM904.65 367.14h8.4v8.4h-8.4zM893.79 377.95h8.4v8.4h-8.4zM887.35 390.51h8.4v8.4h-8.4zM884.75 403.95h8.4v8.4h-8.4zM883.61 417.63h8.4v8.4h-8.4zM887.55 431.06h8.4v8.4h-8.4zM893.39 443.8h8.4v8.4h-8.4zM903.87 454.93h8.4v8.4h-8.4zM917.51 463.97h8.4v8.4h-8.4zM930.24 471.8h8.4v8.4h-8.4zM947.54 476.11h8.4v8.4h-8.4zM961.33 480.15h8.4v8.4h-8.4zM974.83 482.7h8.4v8.4h-8.4zM989.9 482.32h8.4v8.4h-8.4zM1002.47 481.86h8.4v8.4h-8.4zM1015.57 478.93h8.4v8.4h-8.4zM1025.77 476.93h8.4v8.4h-8.4zM1035.65 473.45h8.4v8.4h-8.4zM1044.65 469.09h8.4v8.4h-8.4zM1051.76 465.68h8.4v8.4h-8.4zM1058.68 460.56h8.4v8.4h-8.4zM1063.55 457.83h8.4v8.4h-8.4zM1067.97 454.53h8.4v8.4h-8.4zM1071.57 451.99h8.4v8.4h-8.4zM1074.66 449.84h8.4v8.4h-8.4zM1077.21 449.55h8.4v8.4h-8.4zM1079.69 449.29h8.4v8.4h-8.4zM1082.08 448.18h8.4v8.4h-8.4zM1084.61 449.3h8.4v8.4h-8.4zM1087.11 449.22h8.4v8.4h-8.4zM1090.62 452.73h8.4v8.4h-8.4zM1094.42 455.22h8.4v8.4h-8.4zM1099.38 459.16h8.4v8.4h-8.4zM1104.85 462.38h8.4v8.4h-8.4zM1110.92 465.16h8.4v8.4h-8.4zM1118.94 469.39h8.4v8.4h-8.4zM1128.55 473.78h8.4v8.4h-8.4zM1137.97 476.05h8.4v8.4h-8.4zM1150.32 479.49h8.4v8.4h-8.4zM1162.4 480.68h8.4v8.4h-8.4zM1175.61 480.93h8.4v8.4h-8.4zM1189.16 479.61h8.4v8.4h-8.4zM1204.14 477.3h8.4v8.4h-8.4zM1215.64 471.65h8.4v8.4h-8.4zM1227.71 464.96h8.4v8.4h-8.4zM1238.29 456.53h8.4v8.4h-8.4zM1247.66 446.73h8.4v8.4h-8.4zM1251.63 435.24h8.4v8.4h-8.4zM1255.67 423.39h8.4v8.4h-8.4z" fill="#08c8fc"/>
<polygon points="1264.5,418.4 1264.41,415.26 1264.14,412.13 1263.68,409.01 1263.05,405.91 1262.24,402.85 1261.26,399.82 1260.1,396.84 1258.78,393.91 1257.29,391.03 1255.64,388.22 1253.83,385.49 1251.87,382.82 1249.77,380.24 1247.53,377.75 1245.16,375.35 1242.65,373.05 1240.04,370.85 1237.3,368.75 1234.47,366.76 1231.53,364.88 1228.51,363.12 1225.4,361.47 1222.22,359.94 1218.98,358.53 1215.67,357.23 1212.32,356.06 1208.92,355 1205.49,354.07 1202.04,353.25 1198.56,352.54 1195.08,351.96 1191.59,351.48 1188.11,351.12 1184.63,350.86 1181.17,350.71 1177.74,350.66 1174.34,350.7 1170.97,350.84 1167.64,351.07 1164.36,351.39 1161.13,351.79 1157.96,352.26 1154.84,352.8 1151.79,353.42 1148.81,354.09 1145.9,354.82 1143.06,355.61 1140.29,356.44 1137.6,357.31 1134.99,358.23 1132.46,359.17 1130.01,360.15 1127.65,361.14 1125.36,362.16 1123.16,363.19 1121.04,364.23 1119,365.28 1117.04,366.33 1115.16,367.38 1113.36,368.42 1111.63,369.46 1109.98,370.48 1108.4,371.49 1106.9,372.48 1105.46,373.45 1104.09,374.39 1102.79,375.31 1101.55,376.21 1100.36,377.07 1099.24,377.91 1098.17,378.71 1097.15,379.47 1096.18,380.2 1095.25,380.89 1094.37,381.55 1093.53,382.17 1092.73,382.74 1091.97,383.28 1091.23,383.77 1090.53,384.23 1089.85,384.64 1089.19,385.01 1088.56,385.33 1087.95,385.61 1087.35,385.85 1086.76,386.05 1086.19,386.2 1085.62,386.31 1085.06,386.38 1084.5,386.4 1083.94,386.38 1083.38,386.31 1082.81,386.2 1082.24,386.05 1081.65,385.85 1081.05,385.61 1080.44,385.33 1079.81,385.01 1079.15,384.64 1078.47,384.23 1077.77,383.77 1077.03,383.28 1076.27,382.74 1075.47,382.17 1074.63,381.55 1073.75,380.89 1072.82,380.2 1071.85,379.47 1070.83,378.71 1069.76,377.91 1068.64,377.07 1067.45,376.21 1066.21,375.31 1064.91,374.39 1063.54,373.45 1062.1,372.48 1060.6,371.49 1059.02,370.48 1057.37,369.46 1055.64,368.42 1053.84,367.38 1051.96,366.33 1050,365.28 1047.96,364.23 1045.84,363.19 1043.64,362.16 1041.35,361.14 1038.99,360.15 1036.54,359.17 1034.01,358.23 1031.4,357.31 1028.71,356.44 1025.94,355.61 1023.1,354.82 1020.19,354.09 1017.21,353.42 1014.16,352.8 1011.04,352.26 1007.87,351.79 1004.64,351.39 1001.36,351.07 998.03,350.84 994.66,350.7 991.26,350.66 987.83,350.71 984.37,350.86 980.89,351.12 977.41,351.48 973.92,351.96 970.44,352.54 966.96,353.25 963.51,354.07 960.08,355 956.68,356.06 953.33,357.23 950.02,358.53 946.78,359.94 943.6,361.47 940.49,363.12 937.47,364.88 934.53,366.76 931.7,368.75 928.96,370.85 926.35,373.05 923.84,375.35 921.47,377.75 919.23,380.24 917.13,382.82 915.17,385.49 913.36,388.22 911.71,391.03 910.22,393.91 908.9,396.84 907.74,399.82 906.76,402.85 905.95,405.91 905.32,409.01 904.86,412.13 904.59,415.26 904.5,418.4 904.59,421.54 904.86,424.67 905.32,427.79 905.95,430.89 906.76,433.95 907.74,436.98 908.9,439.96 910.22,442.89 911.71,445.77 913.36,448.58 915.17,451.31 917.13,453.98 919.23,456.56 921.47,459.05 923.84,461.45 926.35,463.75 928.96,465.95 931.7,468.05 934.53,470.04 937.47,471.92 940.49,473.68 943.6,475.33 946.78,476.86 950.02,478.27 953.33,479.57 956.68,480.74 960.08,481.8 963.51,482.73 966.96,483.55 970.44,484.26 973.92,484.84 977.41,485.32 980.89,485.68 984.37,485.94 987.83,486.09 991.26,486.14 994.66,486.1 998.03,485.96 1001.36,485.73 1004.64,485.41 1007.87,485.01 1011.04,484.54 1014.16,484 1017.21,483.38 1020.19,482.71 1023.1,481.98 1025.94,481.19 1028.71,480.36 1031.4,479.49 1034.01,478.57 1036.54,477.63 1038.99,476.65 1041.35,475.66 1043.64,474.64 1045.84,473.61 1047.96,472.57 1050,471.52 1051.96,470.47 1053.84,469.42 1055.64,468.38 1057.37,467.34 1059.02,466.32 1060.6,465.31 1062.1,464.32 1063.54,463.35 1064.91,462.41 1066.21,461.49 1067.45,460.59 1068.64,459.73 1069.76,458.89 1070.83,458.09 1071.85,457.33 1072.82,456.6 1073.75,455.91 1074.63,455.25 1075.47,454.63 1076.27,454.06 1077.03,453.52 1077.77,453.03 1078.47,452.57 1079.15,452.16 1079.81,451.79 1080.44,451.47 1081.05,451.19 1081.65,450.95 1082.24,450.75 1082.81,450.6 1083.38,450.49 1083.94,450.42 1084.5,450.4 1085.06,450.42 1085.62,450.49 1086.19,450.6 1086.76,450.75 1087.35,450.95 1087.95,451.19 1088.56,451.47 1089.19,451.79 1089.85,452.16 1090.53,452.57 1091.23,453.03 1091.97,453.52 1092.73,454.06 1093.53,454.63 1094.37,455.25 1095.25,455.91 1096.18,456.6 1097.15,457.33 1098.17,458.09 1099.24,458.89 1100.36,459.73 1101.55,460.59 1102.79,461.49 1104.09,462.41 1105.46,463.35 1106.9,464.32 1108.4,465.31 1109.98,466.32 1111.63,467.34 1113.36,468.38 1115.16,469.42 1117.04,470.47 1119,471.52 1121.04,472.57 1123.16,473.61 1125.36,474.64 1127.65,475.66 1130.01,476.65 1132.46,477.63 1134.99,478.57 1137.6,479.49 1140.29,480.36 1143.06,481.19 1145.9,481.98 1148.81,482.71 1151.79,483.38 1154.84,484 1157.96,484.54 1161.13,485.01 1164.36,485.41 1167.64,485.73 1170.97,485.96 1174.34,486.1 1177.74,486.14 1181.17,486.09 1184.63,485.94 1188.11,485.68 1191.59,485.32 1195.08,484.84 1198.56,484.26 1202.04,483.55 1205.49,482.73 1208.92,481.8 1212.32,480.74 1215.67,479.57 1218.98,478.27 1222.22,476.86 1225.4,475.33 1228.51,473.68 1231.53,471.92 1234.47,470.04 1237.3,468.05 1240.04,465.95 1242.65,463.75 1245.16,461.45 1247.53,459.05 1249.77,456.56 1251.87,453.98 1253.83,451.31 1255.64,448.58 1257.29,445.77 1258.78,442.89 1260.1,439.96 1261.26,436.98 1262.24,433.95 1263.05,430.89 1263.68,427.79 1264.14,424.67 1264.41,421.54 1264.5,418.4" fill="none" stroke="#1186a6" stroke-width="3.9" stroke-linejoin="round"/>
<path d="M1732.13 413.82h8.8v8.8h-8.8zM1731.83 413.09h8.8v8.8h-8.8zM1746.57 409.74h8.8v8.8h-8.8zM1762.94 403.82h8.8v8.8h-8.8zM1786.77 392.93h8.8v8.8h-8.8zM1810.32 378.23h8.8v8.8h-8.8zM1835.4 358.55h8.8v8.8h-8.8zM1854.05 337.56h8.8v8.8h-8.8zM1862.62 318.88h8.8v8.8h-8.8zM1868.68 299.05h8.8v8.8h-8.8zM1859.13 290.1h8.8v8.8h-8.8zM1851.42 279.46h8.8v8.8h-8.8zM1839.15 273.75h8.8v8.8h-8.8zM1822.17 275.36h8.8v8.8h-8.8zM1801.51 285.83h8.8v8.8h-8.8zM1780.93 302.05h8.8v8.8h-8.8zM1763.59 319.22h8.8v8.8h-8.8zM1747.76 341.5h8.8v8.8h-8.8zM1736.05 362.76h8.8v8.8h-8.8zM1728.37 380.93h8.8v8.8h-8.8zM1723.46 398.84h8.8v8.8h-8.8zM1721.56 410.45h8.8v8.8h-8.8zM1721.3 405.44h8.8v8.8h-8.8zM1720.53 403.23h8.8v8.8h-8.8zM1719.03 398.02h8.8v8.8h-8.8zM1714.19 380.77h8.8v8.8h-8.8zM1705.87 360.38h8.8v8.8h-8.8zM1694.25 339.87h8.8v8.8h-8.8zM1678.19 317.38h8.8v8.8h-8.8zM1660.14 299.18h8.8v8.8h-8.8zM1638.25 281.3h8.8v8.8h-8.8zM1620.23 275.09h8.8v8.8h-8.8zM1602.65 272.8h8.8v8.8h-8.8zM1588.61 276.79h8.8v8.8h-8.8zM1590.88 296.77h8.8v8.8h-8.8zM1588.89 310.75h8.8v8.8h-8.8zM1595.6 329.42h8.8v8.8h-8.8zM1607.31 348.39h8.8v8.8h-8.8zM1623 366.26h8.8v8.8h-8.8zM1643.21 382.65h8.8v8.8h-8.8zM1663.1 395.29h8.8v8.8h-8.8zM1685.68 405.32h8.8v8.8h-8.8zM1698.41 410.16h8.8v8.8h-8.8zM1712.9 413.32h8.8v8.8h-8.8zM1716.78 414.04h8.8v8.8h-8.8zM1715.66 414.4h8.8v8.8h-8.8zM1715 414.86h8.8v8.8h-8.8zM1696.34 418.6h8.8v8.8h-8.8zM1675.92 425.52h8.8v8.8h-8.8zM1656.18 435.36h8.8v8.8h-8.8zM1632.45 450.1h8.8v8.8h-8.8zM1612.59 467.22h8.8v8.8h-8.8zM1594.25 487.55h8.8v8.8h-8.8zM1580.41 509.23h8.8v8.8h-8.8zM1574.93 528.56h8.8v8.8h-8.8zM1573.72 547.08h8.8v8.8h-8.8zM1588.81 551.4h8.8v8.8h-8.8zM1602.82 555.4h8.8v8.8h-8.8zM1617.1 557.62h8.8v8.8h-8.8zM1638.59 546.56h8.8v8.8h-8.8zM1660.02 529.45h8.8v8.8h-8.8zM1677.84 511.81h8.8v8.8h-8.8zM1695 486.47h8.8v8.8h-8.8zM1706.31 466.46h8.8v8.8h-8.8zM1714.06 448.24h8.8v8.8h-8.8zM1718.96 430.88h8.8v8.8h-8.8zM1720.96 419.1h8.8v8.8h-8.8zM1721.3 419.87h8.8v8.8h-8.8zM1721.98 423.9h8.8v8.8h-8.8zM1723.37 428.91h8.8v8.8h-8.8zM1728.29 447.07h8.8v8.8h-8.8zM1735.96 465.32h8.8v8.8h-8.8zM1748.01 487.57h8.8v8.8h-8.8zM1765.41 513.28h8.8v8.8h-8.8zM1784.94 533.89h8.8v8.8h-8.8zM1805.04 548.21h8.8v8.8h-8.8zM1834.22 569.63h8.8v8.8h-8.8zM1853.67 571.96h8.8v8.8h-8.8zM1868.26 566.38h8.8v8.8h-8.8zM1874.71 552.33h8.8v8.8h-8.8zM1877.46 536.2h8.8v8.8h-8.8zM1870.51 514.84h8.8v8.8h-8.8zM1855.49 491.68h8.8v8.8h-8.8zM1836.17 470.22h8.8v8.8h-8.8zM1814.2 451.73h8.8v8.8h-8.8zM1789.05 436.21h8.8v8.8h-8.8zM1767.41 425.7h8.8v8.8h-8.8zM1748.23 418.95h8.8v8.8h-8.8zM1730.03 415.12h8.8v8.8h-8.8zM1724.94 414.33h8.8v8.8h-8.8z" fill="#fdb256"/>
<polygon points="1725.7,418.6 1725.94,418.6 1726.64,418.57 1727.81,418.49 1729.43,418.34 1731.5,418.09 1734,417.73 1736.91,417.22 1740.22,416.56 1743.9,415.72 1747.93,414.68 1752.29,413.43 1756.93,411.96 1761.84,410.26 1766.97,408.31 1772.31,406.11 1777.8,403.66 1783.41,400.96 1789.12,397.99 1794.87,394.78 1800.63,391.33 1806.37,387.63 1812.05,383.71 1817.63,379.58 1823.07,375.25 1828.35,370.74 1833.42,366.06 1838.25,361.25 1842.82,356.32 1847.1,351.31 1851.06,346.23 1854.67,341.11 1857.92,335.98 1860.79,330.87 1863.25,325.82 1865.3,320.85 1866.93,315.99 1868.13,311.27 1868.89,306.73 1869.21,302.39 1869.09,298.28 1868.54,294.43 1867.56,290.87 1866.16,287.61 1864.36,284.69 1862.17,282.13 1859.61,279.94 1856.69,278.14 1853.43,276.74 1849.87,275.76 1846.02,275.21 1841.91,275.09 1837.57,275.41 1833.03,276.17 1828.31,277.37 1823.45,279 1818.48,281.05 1813.43,283.51 1808.32,286.38 1803.19,289.63 1798.08,293.24 1792.99,297.2 1787.98,301.48 1783.05,306.05 1778.24,310.88 1773.56,315.95 1769.05,321.23 1764.72,326.67 1760.59,332.25 1756.67,337.93 1752.97,343.67 1749.52,349.43 1746.31,355.18 1743.34,360.89 1740.64,366.5 1738.19,371.99 1735.99,377.33 1734.04,382.46 1732.34,387.37 1730.87,392.01 1729.62,396.37 1728.58,400.4 1727.74,404.08 1727.08,407.39 1726.57,410.3 1726.21,412.8 1725.96,414.87 1725.81,416.49 1725.73,417.66 1725.7,418.36 1725.7,418.6 1725.7,418.36 1725.67,417.66 1725.59,416.49 1725.44,414.87 1725.19,412.8 1724.83,410.3 1724.32,407.39 1723.66,404.08 1722.82,400.4 1721.78,396.37 1720.53,392.01 1719.06,387.37 1717.36,382.46 1715.41,377.33 1713.21,371.99 1710.76,366.5 1708.06,360.89 1705.09,355.18 1701.88,349.43 1698.43,343.67 1694.73,337.93 1690.81,332.25 1686.68,326.67 1682.35,321.23 1677.84,315.95 1673.16,310.88 1668.35,306.05 1663.42,301.48 1658.41,297.2 1653.33,293.24 1648.21,289.63 1643.08,286.38 1637.97,283.51 1632.92,281.05 1627.95,279 1623.09,277.37 1618.37,276.17 1613.83,275.41 1609.49,275.09 1605.38,275.21 1601.53,275.76 1597.97,276.74 1594.71,278.14 1591.79,279.94 1589.23,282.13 1587.04,284.69 1585.24,287.61 1583.84,290.87 1582.86,294.43 1582.31,298.28 1582.19,302.39 1582.51,306.73 1583.27,311.27 1584.47,315.99 1586.1,320.85 1588.15,325.82 1590.61,330.87 1593.48,335.98 1596.73,341.11 1600.34,346.23 1604.3,351.31 1608.58,356.32 1613.15,361.25 1617.98,366.06 1623.05,370.74 1628.33,375.25 1633.77,379.58 1639.35,383.71 1645.03,387.63 1650.77,391.33 1656.53,394.78 1662.28,397.99 1667.99,400.96 1673.6,403.66 1679.09,406.11 1684.43,408.31 1689.56,410.26 1694.47,411.96 1699.11,413.43 1703.47,414.68 1707.5,415.72 1711.18,416.56 1714.49,417.22 1717.4,417.73 1719.9,418.09 1721.97,418.34 1723.59,418.49 1724.76,418.57 1725.46,418.6 1725.7,418.6 1725.46,418.6 1724.76,418.63 1723.59,418.71 1721.97,418.86 1719.9,419.11 1717.4,419.47 1714.49,419.98 1711.18,420.64 1707.5,421.48 1703.47,422.52 1699.11,423.77 1694.47,425.24 1689.56,426.94 1684.43,428.89 1679.09,431.09 1673.6,433.54 1667.99,436.24 1662.28,439.21 1656.53,442.42 1650.77,445.87 1645.03,449.57 1639.35,453.49 1633.77,457.62 1628.33,461.95 1623.05,466.46 1617.98,471.14 1613.15,475.95 1608.58,480.88 1604.3,485.89 1600.34,490.98 1596.73,496.09 1593.48,501.22 1590.61,506.33 1588.15,511.38 1586.1,516.35 1584.47,521.21 1583.27,525.93 1582.51,530.47 1582.19,534.81 1582.31,538.92 1582.86,542.77 1583.84,546.33 1585.24,549.59 1587.04,552.51 1589.23,555.07 1591.79,557.26 1594.71,559.06 1597.97,560.46 1601.53,561.44 1605.38,561.99 1609.49,562.11 1613.83,561.79 1618.37,561.03 1623.09,559.83 1627.95,558.2 1632.92,556.15 1637.97,553.69 1643.08,550.82 1648.21,547.57 1653.32,543.96 1658.41,540 1663.42,535.72 1668.35,531.15 1673.16,526.32 1677.84,521.25 1682.35,515.97 1686.68,510.53 1690.81,504.95 1694.73,499.27 1698.43,493.53 1701.88,487.77 1705.09,482.02 1708.06,476.31 1710.76,470.7 1713.21,465.21 1715.41,459.87 1717.36,454.74 1719.06,449.83 1720.53,445.19 1721.78,440.83 1722.82,436.8 1723.66,433.12 1724.32,429.81 1724.83,426.9 1725.19,424.4 1725.44,422.33 1725.59,420.71 1725.67,419.54 1725.7,418.84 1725.7,418.6 1725.7,418.84 1725.73,419.54 1725.81,420.71 1725.96,422.33 1726.21,424.4 1726.57,426.9 1727.08,429.81 1727.74,433.12 1728.58,436.8 1729.62,440.83 1730.87,445.19 1732.34,449.83 1734.04,454.74 1735.99,459.87 1738.19,465.21 1740.64,470.7 1743.34,476.31 1746.31,482.02 1749.52,487.77 1752.97,493.53 1756.67,499.27 1760.59,504.95 1764.72,510.53 1769.05,515.97 1773.56,521.25 1778.24,526.32 1783.05,531.15 1787.98,535.72 1792.99,540 1798.08,543.96 1803.19,547.57 1808.32,550.82 1813.43,553.69 1818.48,556.15 1823.45,558.2 1828.31,559.83 1833.03,561.03 1837.57,561.79 1841.91,562.11 1846.02,561.99 1849.87,561.44 1853.43,560.46 1856.69,559.06 1859.61,557.26 1862.17,555.07 1864.36,552.51 1866.16,549.59 1867.56,546.33 1868.54,542.77 1869.09,538.92 1869.21,534.81 1868.89,530.47 1868.13,525.93 1866.93,521.21 1865.3,516.35 1863.25,511.38 1860.79,506.33 1857.92,501.22 1854.67,496.09 1851.06,490.98 1847.1,485.89 1842.82,480.88 1838.25,475.95 1833.42,471.14 1828.35,466.46 1823.07,461.95 1817.63,457.62 1812.05,453.49 1806.37,449.57 1800.63,445.87 1794.87,442.42 1789.12,439.21 1783.41,436.24 1777.8,433.54 1772.31,431.09 1766.97,428.89 1761.84,426.94 1756.93,425.24 1752.29,423.77 1747.93,422.52 1743.9,421.48 1740.22,420.64 1736.91,419.98 1734,419.47 1731.5,419.11 1729.43,418.86 1727.81,418.71 1726.64,418.63 1725.94,418.6 1725.7,418.6" fill="none" stroke="#b86c06" stroke-width="3.9" stroke-linejoin="round"/>
<rect x="1342" y="51.1" width="14.4" height="13.8" fill="#10c9fb"/>
<rect x="1342" y="99.1" width="14.4" height="13.8" fill="#fdb55e"/>
<line x1="1328.6" y1="158" x2="1369.6" y2="158" stroke="#1a93b2" stroke-width="3.6"/>
<line x1="1328.6" y1="176.4" x2="1369.6" y2="176.4" stroke="#b86c06" stroke-width="3.6"/>
<text x="1367.7" y="66.8" font-size="33.3" font-style="italic">I<tspan font-size="28" dy="5.9">x</tspan></text>
<text x="1367.7" y="119.2" font-size="33.3" font-style="italic">I<tspan font-size="28" dy="5.9">y</tspan></text>
<text x="1384.8" y="174.8" font-size="33.3" text-anchor="start" textLength="97.5" lengthAdjust="spacing" >Theory</text>
</g>
<g id="panel-c" font-family="'Liberation Sans', sans-serif" fill="#000">
<text x="0.5" y="841.4" font-size="43" text-anchor="start" font-weight="bold">c</text>
<clipPath id="clipC"><rect x="187.9" y="832.5" width="565.3" height="647.9"/></clipPath>
<g clip-path="url(#clipC)" fill="none" stroke-width="3.3" stroke-linejoin="miter" stroke-miterlimit="3">
<polyline points="171.5,1437.24 182.4,1434.44 193.3,1436.66 204.2,1436.36 215.1,1437.38 226,1440.63 236.9,1430.33 247.8,1408.65 258.7,1433.09 269.6,1446.72 280.5,1424.28 291.4,1429.43 302.3,1430.01 313.2,1441.11 324.1,1433.21 335,1421.56 345.9,1424.74 356.8,1436.4 367.7,1429.13 378.6,1426.03 389.5,1435.1 400.4,1434.14 411.3,1440.86 422.2,1441.82 433.1,1416.38 444,1431.74 454.9,1431.74 465.8,1438.94 476.7,1414.94 487.6,1423.1 498.5,1437.5 509.4,1421.18 520.3,1443.74 531.2,1436.06 542.1,1448.54 553,1443.26 563.9,1437.9 574.8,1447.58 585.7,1425.06 596.6,1429.18 607.5,1434.15 618.4,1435.26 629.3,1433.63 640.2,1432.27 651.1,1413.57 662,1425.67 672.9,1433.45 683.8,1436.78 694.7,1430.09 705.6,1426.28 716.5,1429.31 727.4,1429.36 738.3,1433.29 749.2,1427.21 760.1,1424.42 771,1434.67" stroke="#0b323d"/>
<polyline points="171.5,1431.95 182.4,1428.99 193.3,1430.96 204.2,1431.44 215.1,1431.35 226,1426.78 236.9,1424 247.8,1430.67 258.7,1432.55 269.6,1429.76 280.5,1431.14 291.4,1429.94 302.3,1427.37 313.2,1420.52 324.1,1418.17 335,1432.97 345.9,1432.4 356.8,1425.04 367.7,1435.97 378.6,1424.54 389.5,1429.76 400.4,1434.67 411.3,1434.14 422.2,1428.86 433.1,1413.5 444,1402.94 454.9,1404.38 465.8,1414.46 476.7,1388.54 487.6,1383.74 498.5,1408.7 509.4,1403.9 520.3,1443.74 531.2,1435.1 542.1,1433.48 553,1434.31 563.9,1430.51 574.8,1429.41 585.7,1430.07 596.6,1430.09 607.5,1432.37 618.4,1438.21 629.3,1431.98 640.2,1431.97 651.1,1442.85 662,1427.62 672.9,1430.19 683.8,1431.54 694.7,1427.09 705.6,1432.88 716.5,1432.12 727.4,1432.36 738.3,1431.05 749.2,1433.79 760.1,1440.24 771,1439.02" stroke="#0a4a5c"/>
<polyline points="171.5,1434.21 182.4,1434.98 193.3,1427.94 204.2,1434.1 215.1,1440.85 226,1438.32 236.9,1434.43 247.8,1433.87 258.7,1432.6 269.6,1424.73 280.5,1415.83 291.4,1432.23 302.3,1441.86 313.2,1439.12 324.1,1436.89 335,1435.12 345.9,1438.4 356.8,1443.1 367.7,1436.4 378.6,1428.9 389.5,1427.49 400.4,1428.86 411.3,1427.9 422.2,1413.5 433.1,1393.34 444,1362.62 454.9,1338.14 465.8,1344.38 476.7,1335.26 487.6,1374.62 498.5,1382.3 509.4,1391.42 520.3,1426.94 531.2,1438.46 542.1,1443.66 553,1430.89 563.9,1430.17 574.8,1429.61 585.7,1427.13 596.6,1433.01 607.5,1426.86 618.4,1425.83 629.3,1418.73 640.2,1446.48 651.1,1426.94 662,1426.79 672.9,1436.12 683.8,1432.93 694.7,1431.31 705.6,1444.9 716.5,1438.25 727.4,1434.84 738.3,1431.86 749.2,1430.62 760.1,1428.13 771,1436.86" stroke="#0b6b85"/>
<polyline points="171.5,1433.54 182.4,1430.58 193.3,1440.86 204.2,1440.08 215.1,1435.48 226,1430.5 236.9,1432.48 247.8,1431.1 258.7,1441.38 269.6,1438.17 280.5,1423.89 291.4,1428.29 302.3,1436.4 313.2,1429.08 324.1,1429.48 335,1425.35 345.9,1432.24 356.8,1441.81 367.7,1434.4 378.6,1416.38 389.5,1425.98 400.4,1448.54 411.3,1429.82 422.2,1407.74 433.1,1370.78 444,1315.1 454.9,1303.58 465.8,1310.3 476.7,1310.3 487.6,1293.98 498.5,1353.5 509.4,1392.38 520.3,1433.66 531.2,1425.98 542.1,1431.49 553,1425.24 563.9,1431.01 574.8,1434.82 585.7,1435.98 596.6,1442.76 607.5,1450.58 618.4,1440.21 629.3,1436.22 640.2,1436.06 651.1,1442.26 662,1440.31 672.9,1440.38 683.8,1431.13 694.7,1420.94 705.6,1437.68 716.5,1437.91 727.4,1425.82 738.3,1416.38 749.2,1421.92 760.1,1429.25 771,1437.19" stroke="#0b87a8"/>
<polyline points="171.5,1427.87 182.4,1427.23 193.3,1428.25 204.2,1432.19 215.1,1440.91 226,1434.48 236.9,1431.65 247.8,1430.96 258.7,1434.58 269.6,1413.54 280.5,1432.62 291.4,1430.56 302.3,1425.84 313.2,1426.65 324.1,1434.72 335,1436.65 345.9,1435.76 356.8,1434.86 367.7,1436.38 378.6,1439.01 389.5,1433.54 400.4,1431.36 411.3,1390.2 422.2,1334.19 433.1,1255.07 444,1148.73 454.9,1065.5 465.8,1062.62 476.7,1053.5 487.6,1104.86 498.5,1218.27 509.4,1313.6 520.3,1376.87 531.2,1423 542.1,1453.33 553,1432.66 563.9,1428.41 574.8,1435.13 585.7,1443.73 596.6,1425.8 607.5,1424.78 618.4,1433.24 629.3,1428.6 640.2,1432.65 651.1,1433.43 662,1429.69 672.9,1433.18 683.8,1445.52 694.7,1438.46 705.6,1435.11 716.5,1425.4 727.4,1427.6 738.3,1438.99 749.2,1435.33 760.1,1443.63 771,1426.53" stroke="#0aa5cf"/>
<polyline points="171.5,1428.87 182.4,1434.64 193.3,1447.96 204.2,1441.39 215.1,1426.98 226,1432.29 236.9,1442.76 247.8,1432.84 258.7,1428.42 269.6,1439.34 280.5,1434.17 291.4,1411.9 302.3,1430.44 313.2,1432.71 324.1,1434.13 335,1430.5 345.9,1426.23 356.8,1427.2 367.7,1427.95 378.6,1427.9 389.5,1407.74 400.4,1419.26 411.3,1383.06 422.2,1327.47 433.1,1245.39 444,1127.5 454.9,1034.3 465.8,1020.86 476.7,997.82 487.6,1047.74 498.5,1165.64 509.4,1276.01 520.3,1352.69 531.2,1399.07 542.1,1439.61 553,1428.95 563.9,1431.59 574.8,1439.31 585.7,1438.01 596.6,1434.65 607.5,1429.16 618.4,1433.15 629.3,1434.66 640.2,1432.47 651.1,1433.7 662,1436.3 672.9,1423.56 683.8,1422.85 694.7,1431.71 705.6,1441.27 716.5,1438.92 727.4,1425.32 738.3,1430.97 749.2,1432.16 760.1,1436.35 771,1447.5" stroke="#02c8f8"/>
<polyline points="171.5,1431.91 182.4,1434.46 193.3,1438.37 204.2,1441.96 215.1,1433.59 226,1423.63 236.9,1430.15 247.8,1428.3 258.7,1433.32 269.6,1436.78 280.5,1426.91 291.4,1433.03 302.3,1441.26 313.2,1426.99 324.1,1434.71 335,1445.99 345.9,1447.72 356.8,1430.37 367.7,1427.3 378.6,1420.51 389.5,1403.78 400.4,1381.75 411.3,1353.31 422.2,1303.65 433.1,1196.45 444,1062.54 454.9,971.42 465.8,911.9 476.7,911.9 487.6,982.94 498.5,1095.83 509.4,1222.24 520.3,1321.25 531.2,1387.01 542.1,1423.36 553,1431.17 563.9,1429.6 574.8,1427.52 585.7,1426.49 596.6,1436.63 607.5,1434.83 618.4,1434.93 629.3,1436.77 640.2,1435.56 651.1,1437.13 662,1444.09 672.9,1442.67 683.8,1442.55 694.7,1434.69 705.6,1438.69 716.5,1432.39 727.4,1431.27 738.3,1431.42 749.2,1432.69 760.1,1432.36 771,1439.26" stroke="#66dffc"/>
</g>
<rect x="187.9" y="832.5" width="563.3" height="647.9" fill="none" stroke="#000" stroke-width="2.8"/>
<path d="M328.73 1480.4v-7M328.73 832.5v7M469.55 1480.4v-14M469.55 832.5v14M610.38 1480.4v-7M610.38 832.5v7M187.9 1432.7h14M751.2 1432.7h-14M187.9 1312.7h7M751.2 1312.7h-7M187.9 1192.7h14M751.2 1192.7h-14M187.9 1072.7h7M751.2 1072.7h-7M187.9 952.7h14M751.2 952.7h-14" stroke="#000" stroke-width="2.8" stroke-linecap="round" fill="none"/>
<line x1="752.4" y1="910" x2="752.4" y2="1448" stroke="#000" stroke-width="1.6"/>
<text x="174" y="1442" font-size="33.3" text-anchor="end" >0</text>
<text x="174" y="1202" font-size="33.3" text-anchor="end" >500</text>
<text x="174" y="962" font-size="33.3" text-anchor="end" >1000</text>
<text x="191.3" y="1521.3" font-size="33.3" text-anchor="middle" >425</text>
<text x="473.2" y="1521.3" font-size="33.3" text-anchor="middle" >450</text>
<text x="755.2" y="1521.3" font-size="33.3" text-anchor="middle" >475</text>
<text x="470" y="1566" font-size="33.3" text-anchor="middle" textLength="234" lengthAdjust="spacing" >Wavelength (nm)</text>
<text transform="translate(78,1158.6) rotate(-90)" font-size="33.3" text-anchor="middle" textLength="203" lengthAdjust="spacingAndGlyphs">Intensity (A.U.)</text>
<text x="248.8" y="912" font-size="33.3" text-anchor="start" textLength="119.5" lengthAdjust="spacing" ><tspan font-style="italic">ε</tspan> = 0.9%</text>
<line x1="573.8" y1="877.2" x2="610" y2="877.2" stroke="#66dffc" stroke-width="3.5" stroke-linecap="round"/>
<text x="625.3" y="889.9" font-size="33.3" text-anchor="start" textLength="87.5" lengthAdjust="spacing" >133 K</text>
<line x1="573.8" y1="917.93" x2="610" y2="917.93" stroke="#02c8f8" stroke-width="3.5" stroke-linecap="round"/>
<text x="625.3" y="930.63" font-size="33.3" text-anchor="start" textLength="87.5" lengthAdjust="spacing" >143 K</text>
<line x1="573.8" y1="958.66" x2="610" y2="958.66" stroke="#0aa5cf" stroke-width="3.5" stroke-linecap="round"/>
<text x="625.3" y="971.36" font-size="33.3" text-anchor="start" textLength="87.5" lengthAdjust="spacing" >153 K</text>
<line x1="573.8" y1="999.39" x2="610" y2="999.39" stroke="#0b87a8" stroke-width="3.5" stroke-linecap="round"/>
<text x="625.3" y="1012.09" font-size="33.3" text-anchor="start" textLength="87.5" lengthAdjust="spacing" >162 K</text>
<line x1="573.8" y1="1040.12" x2="610" y2="1040.12" stroke="#0b6b85" stroke-width="3.5" stroke-linecap="round"/>
<text x="625.3" y="1052.82" font-size="33.3" text-anchor="start" textLength="87.5" lengthAdjust="spacing" >174 K</text>
<line x1="573.8" y1="1080.85" x2="610" y2="1080.85" stroke="#0a4a5c" stroke-width="3.5" stroke-linecap="round"/>
<text x="625.3" y="1093.55" font-size="33.3" text-anchor="start" textLength="87.5" lengthAdjust="spacing" >182 K</text>
<line x1="573.8" y1="1121.58" x2="610" y2="1121.58" stroke="#0b323d" stroke-width="3.5" stroke-linecap="round"/>
<text x="625.3" y="1134.28" font-size="33.3" text-anchor="start" textLength="87.5" lengthAdjust="spacing" >185 K</text>
</g>
<g id="panel-d" font-family="'Liberation Sans', sans-serif" fill="#000">
<defs><radialGradient id="gGreenD" cx="0.5" cy="0.5" r="0.5" fx="0.48" fy="0.53"><stop offset="0" stop-color="#f0fff0"/><stop offset="0.08" stop-color="#bcffb8"/><stop offset="0.2" stop-color="#5fe85c"/><stop offset="0.36" stop-color="#1fa624"/><stop offset="0.62" stop-color="#0c6c10"/><stop offset="1" stop-color="#064808"/></radialGradient><radialGradient id="gGreenL" cx="0.5" cy="0.5" r="0.5" fx="0.48" fy="0.53"><stop offset="0" stop-color="#f4fff4"/><stop offset="0.08" stop-color="#ccffc8"/><stop offset="0.22" stop-color="#86ea80"/><stop offset="0.4" stop-color="#4cac4c"/><stop offset="0.75" stop-color="#3a8c3a"/><stop offset="1" stop-color="#2f7a30"/></radialGradient><radialGradient id="gRed" cx="0.5" cy="0.5" r="0.5" fx="0.47" fy="0.5"><stop offset="0" stop-color="#fff0f0"/><stop offset="0.12" stop-color="#ffb0b0"/><stop offset="0.3" stop-color="#ff5454"/><stop offset="0.55" stop-color="#f01818"/><stop offset="1" stop-color="#b00000"/></radialGradient><radialGradient id="gBlueS" cx="0.5" cy="0.5" r="0.5" fx="0.48" fy="0.5"><stop offset="0" stop-color="#d4eefb"/><stop offset="0.25" stop-color="#8ccbf0"/><stop offset="0.7" stop-color="#63b0e2"/><stop offset="1" stop-color="#4a94c8"/></radialGradient></defs>
<text x="914.5" y="841.3" font-size="43" text-anchor="start" font-weight="bold">d</text>
<clipPath id="clipD"><rect x="1047.1" y="833.2" width="899.6" height="647"/></clipPath>
<polyline clip-path="url(#clipD)" points="1047.1,1451.52 1050.04,1449.04 1062.99,1436.99 1077.51,1424.54 1092.88,1413.49 1108.58,1404.03 1128.85,1392.08 1175.28,1364.2 1230.22,1332.14 1340.42,1274.4 1450.29,1216.65 1537.27,1169.85 1699.14,1081.73 1799.2,1027.17 1864.27,993.62 1903.84,974.4 1944.71,956.48" fill="none" stroke="#808080" stroke-width="4.3" stroke-dasharray="9 9.6" stroke-linecap="round" stroke-linejoin="round"/>
<rect x="1047.1" y="833.2" width="899.6" height="647" fill="none" stroke="#000" stroke-width="2.8"/>
<path d="M1128.85 1480.2v-7M1128.85 833.2v7M1210.6 1480.2v-13.5M1210.6 833.2v13.5M1292.35 1480.2v-7M1292.35 833.2v7M1374.1 1480.2v-13.5M1374.1 833.2v13.5M1455.85 1480.2v-7M1455.85 833.2v7M1537.6 1480.2v-13.5M1537.6 833.2v13.5M1619.35 1480.2v-7M1619.35 833.2v7M1701.1 1480.2v-13.5M1701.1 833.2v13.5M1782.85 1480.2v-7M1782.85 833.2v7M1864.6 1480.2v-13.5M1864.6 833.2v13.5M1047.1 1380.63h7M1946.7 1380.63h-7M1047.1 1281.07h13.5M1946.7 1281.07h-13.5M1047.1 1181.5h7M1946.7 1181.5h-7M1047.1 1081.93h13.5M1946.7 1081.93h-13.5M1047.1 982.37h7M1946.7 982.37h-7M1047.1 882.8h13.5M1946.7 882.8h-13.5" stroke="#000" stroke-width="2.8" stroke-linecap="round" fill="none"/>
<text x="1031" y="1491.8" font-size="33.3" text-anchor="end" >0</text>
<text x="1031" y="1292.07" font-size="33.3" text-anchor="end" >200</text>
<text x="1031" y="1091.93" font-size="33.3" text-anchor="end" >400</text>
<text x="1031" y="888.8" font-size="33.3" text-anchor="end" >600</text>
<text x="1048.6" y="1521.2" font-size="33.3" text-anchor="middle" >0.0</text>
<text x="1212.1" y="1521.2" font-size="33.3" text-anchor="middle" >0.5</text>
<text x="1375.6" y="1521.2" font-size="33.3" text-anchor="middle" >1.0</text>
<text x="1539.1" y="1521.2" font-size="33.3" text-anchor="middle" >1.5</text>
<text x="1702.6" y="1521.2" font-size="33.3" text-anchor="middle" >2.0</text>
<text x="1866.1" y="1521.2" font-size="33.3" text-anchor="middle" >2.5</text>
<text x="1495" y="1566" font-size="33.3" text-anchor="middle" textLength="259.5" lengthAdjust="spacing" >Uniaxial strain (%)</text>
<text transform="translate(938.9,1204.4) rotate(-90)" font-size="33.3"><tspan x="-2.5" font-style="italic">T</tspan><tspan x="20.4" dy="14">c</tspan><tspan x="44" dy="-14">(</tspan><tspan x="56.5">K</tspan><tspan x="86">)</tspan></text>
<path d="M1222.5 1299.4V1339.8M1215.3 1299.4h14.4M1215.3 1339.8h14.4" stroke="#ff8a14" stroke-width="2.1" fill="none"/>
<rect x="1211.2" y="1306.9" width="22.6" height="22.6" fill="#ff880e"/>
<path d="M1348.6 1273.9V1314.6M1341.4 1273.9h14.4M1341.4 1314.6h14.4" stroke="#ff8a14" stroke-width="2.1" fill="none"/>
<rect x="1337.3" y="1283" width="22.6" height="22.6" fill="#ff880e"/>
<path d="M1458.3 1132.3V1233.4M1451.1 1132.3h14.4M1451.1 1233.4h14.4" stroke="#ff8a14" stroke-width="2.1" fill="none"/>
<rect x="1447" y="1166.7" width="22.6" height="22.6" fill="#ff880e"/>
<rect x="1525.5" y="1156.7" width="22.6" height="22.6" fill="#0e8fb0"/>
<rect x="1688.2" y="1070.4" width="22.6" height="22.6" fill="#0e8fb0"/>
<rect x="1853.3" y="981.7" width="22.6" height="22.6" fill="#0e8fb0"/>
<rect x="1425" y="876.3" width="22.6" height="22.6" fill="#0e8fb0"/>
<line x1="1409.2" y1="908.2" x2="1460.2" y2="908.2" stroke="#808080" stroke-width="4.6" stroke-dasharray="14.5 3.8"/>
<rect x="1425" y="931.4" width="22.6" height="22.6" fill="#ff880e"/>
<text x="1471.5" y="900.7" font-size="33.3" textLength="271.5" lengthAdjust="spacing"><tspan font-style="italic">T</tspan><tspan font-size="19">c</tspan> from GLD model</text>
<text x="1468.5" y="953.3" font-size="33.3" textLength="181" lengthAdjust="spacing">Measured <tspan font-style="italic">T</tspan><tspan font-size="19">c</tspan></text>
<line x1="1165.2" y1="906.9" x2="1273" y2="903.9" stroke="#8a8a8a" stroke-width="0.8"/>
<line x1="1165.2" y1="906.9" x2="1160" y2="1013.3" stroke="#8a8a8a" stroke-width="0.8"/>
<line x1="1160" y1="1013.3" x2="1265" y2="1008.2" stroke="#8a8a8a" stroke-width="0.8"/>
<line x1="1273" y1="903.9" x2="1265" y2="1008.2" stroke="#8a8a8a" stroke-width="0.8"/>
<line x1="1165.2" y1="906.9" x2="1196" y2="942.8" stroke="#8a8a8a" stroke-width="0.8"/>
<line x1="1273" y1="903.9" x2="1313.6" y2="939" stroke="#8a8a8a" stroke-width="0.8"/>
<line x1="1160" y1="1013.3" x2="1189.8" y2="1057.6" stroke="#8a8a8a" stroke-width="0.8"/>
<line x1="1265" y1="1008.2" x2="1303" y2="1050.7" stroke="#8a8a8a" stroke-width="0.8"/>
<circle cx="1165.2" cy="906.9" r="21.3" fill="url(#gGreenL)"/>
<circle cx="1273" cy="903.9" r="20.7" fill="url(#gGreenL)"/>
<circle cx="1160" cy="1013.3" r="21" fill="url(#gGreenL)"/>
<circle cx="1265" cy="1008.2" r="20" fill="url(#gGreenL)"/>
<circle cx="1217" cy="959.3" r="6.6" fill="url(#gRed)"/>
<line x1="1233.3" y1="977.3" x2="1225.15" y2="968.3" stroke="#5aa6d8" stroke-width="4.2"/>
<line x1="1225.15" y1="968.3" x2="1217" y2="959.3" stroke="#c2404e" stroke-width="4.2"/>
<polygon points="1237.2,921.9 1288,975.2 1229.7,1031.3 1176.3,980.3" fill="#5f9fcc" fill-opacity="0.55"/>
<line x1="1233.3" y1="977.3" x2="1235.25" y2="949.6" stroke="#5aa6d8" stroke-width="5"/>
<line x1="1235.25" y1="949.6" x2="1237.2" y2="921.9" stroke="#c2404e" stroke-width="5"/>
<line x1="1233.3" y1="977.3" x2="1204.8" y2="978.8" stroke="#5aa6d8" stroke-width="5"/>
<line x1="1204.8" y1="978.8" x2="1176.3" y2="980.3" stroke="#c2404e" stroke-width="5"/>
<line x1="1233.3" y1="977.3" x2="1260.65" y2="976.25" stroke="#5aa6d8" stroke-width="5"/>
<line x1="1260.65" y1="976.25" x2="1288" y2="975.2" stroke="#c2404e" stroke-width="5"/>
<line x1="1233.3" y1="977.3" x2="1231.5" y2="1004.3" stroke="#5aa6d8" stroke-width="5"/>
<line x1="1231.5" y1="1004.3" x2="1229.7" y2="1031.3" stroke="#c2404e" stroke-width="5"/>
<polygon points="1237.2,921.9 1251.2,998.3 1176.3,980.3" fill="#7fb4da" fill-opacity="0.35"/>
<polygon points="1229.7,1031.3 1251.2,998.3 1288,975.2" fill="#4f8fc0" fill-opacity="0.30"/>
<polygon points="1237.2,921.9 1251.2,998.3 1288,975.2" fill="#6aa6d2" fill-opacity="0.25"/>
<polygon points="1229.7,1031.3 1251.2,998.3 1176.3,980.3" fill="#5f9fcc" fill-opacity="0.30"/>
<circle cx="1233.3" cy="977.3" r="16.5" fill="url(#gBlueS)"/>
<line x1="1239.94" y1="985.09" x2="1243.55" y2="989.32" stroke="#4f8fc4" stroke-width="5.5" stroke-linecap="round"/>
<line x1="1243.55" y1="989.32" x2="1251.2" y2="998.3" stroke="#c2404e" stroke-width="5.5"/>
<circle cx="1237.2" cy="921.9" r="8.4" fill="url(#gRed)"/>
<circle cx="1176.3" cy="980.3" r="8" fill="url(#gRed)"/>
<circle cx="1288" cy="975.2" r="8" fill="url(#gRed)"/>
<circle cx="1229.7" cy="1031.3" r="8.4" fill="url(#gRed)"/>
<circle cx="1251.2" cy="998.3" r="9" fill="url(#gRed)"/>
<line x1="1196" y1="942.8" x2="1313.6" y2="939" stroke="#8a8a8a" stroke-width="0.8"/>
<line x1="1196" y1="942.8" x2="1189.8" y2="1057.6" stroke="#8a8a8a" stroke-width="0.8"/>
<line x1="1189.8" y1="1057.6" x2="1303" y2="1050.7" stroke="#8a8a8a" stroke-width="0.8"/>
<line x1="1313.6" y1="939" x2="1303" y2="1050.7" stroke="#8a8a8a" stroke-width="0.8"/>
<circle cx="1196" cy="942.8" r="23.4" fill="url(#gGreenD)"/>
<circle cx="1313.6" cy="939" r="22.8" fill="url(#gGreenD)"/>
<circle cx="1189.8" cy="1057.6" r="22.8" fill="url(#gGreenD)"/>
<circle cx="1303" cy="1050.7" r="21.9" fill="url(#gGreenD)"/>
<line x1="1670.6" y1="1198.2" x2="1785.5" y2="1193.7" stroke="#8a8a8a" stroke-width="0.8"/>
<line x1="1670.6" y1="1198.2" x2="1668.5" y2="1303.7" stroke="#8a8a8a" stroke-width="0.8"/>
<line x1="1668.5" y1="1303.7" x2="1780.4" y2="1296.8" stroke="#8a8a8a" stroke-width="0.8"/>
<line x1="1785.5" y1="1193.7" x2="1780.4" y2="1296.8" stroke="#8a8a8a" stroke-width="0.8"/>
<line x1="1670.6" y1="1198.2" x2="1697.7" y2="1231.3" stroke="#8a8a8a" stroke-width="0.8"/>
<line x1="1785.5" y1="1193.7" x2="1822.5" y2="1225.6" stroke="#8a8a8a" stroke-width="0.8"/>
<line x1="1668.5" y1="1303.7" x2="1694.7" y2="1346.4" stroke="#8a8a8a" stroke-width="0.8"/>
<line x1="1780.4" y1="1296.8" x2="1815" y2="1337.4" stroke="#8a8a8a" stroke-width="0.8"/>
<circle cx="1670.6" cy="1198.2" r="21" fill="url(#gGreenL)"/>
<circle cx="1785.5" cy="1193.7" r="20.7" fill="url(#gGreenL)"/>
<circle cx="1668.5" cy="1303.7" r="20.7" fill="url(#gGreenL)"/>
<circle cx="1780.4" cy="1296.8" r="19.8" fill="url(#gGreenL)"/>
<circle cx="1739.8" cy="1247.2" r="6.6" fill="url(#gRed)"/>
<line x1="1745.8" y1="1265.2" x2="1742.8" y2="1256.2" stroke="#5aa6d8" stroke-width="4.2"/>
<line x1="1742.8" y1="1256.2" x2="1739.8" y2="1247.2" stroke="#c2404e" stroke-width="4.2"/>
<polygon points="1757.8,1211.1 1812.9,1262.8 1752.7,1319.4 1695.6,1268.9" fill="#5f9fcc" fill-opacity="0.55"/>
<line x1="1745.8" y1="1265.2" x2="1751.8" y2="1238.15" stroke="#5aa6d8" stroke-width="5"/>
<line x1="1751.8" y1="1238.15" x2="1757.8" y2="1211.1" stroke="#c2404e" stroke-width="5"/>
<line x1="1745.8" y1="1265.2" x2="1720.7" y2="1267.05" stroke="#5aa6d8" stroke-width="5"/>
<line x1="1720.7" y1="1267.05" x2="1695.6" y2="1268.9" stroke="#c2404e" stroke-width="5"/>
<line x1="1745.8" y1="1265.2" x2="1779.35" y2="1264" stroke="#5aa6d8" stroke-width="5"/>
<line x1="1779.35" y1="1264" x2="1812.9" y2="1262.8" stroke="#c2404e" stroke-width="5"/>
<line x1="1745.8" y1="1265.2" x2="1749.25" y2="1292.3" stroke="#5aa6d8" stroke-width="5"/>
<line x1="1749.25" y1="1292.3" x2="1752.7" y2="1319.4" stroke="#c2404e" stroke-width="5"/>
<polygon points="1757.8,1211.1 1772.9,1284.8 1695.6,1268.9" fill="#7fb4da" fill-opacity="0.35"/>
<polygon points="1752.7,1319.4 1772.9,1284.8 1812.9,1262.8" fill="#4f8fc0" fill-opacity="0.30"/>
<polygon points="1757.8,1211.1 1772.9,1284.8 1812.9,1262.8" fill="#6aa6d2" fill-opacity="0.25"/>
<polygon points="1752.7,1319.4 1772.9,1284.8 1695.6,1268.9" fill="#5f9fcc" fill-opacity="0.30"/>
<circle cx="1745.8" cy="1265.2" r="16.5" fill="url(#gBlueS)"/>
<line x1="1754.09" y1="1271.2" x2="1760.97" y2="1276.17" stroke="#4f8fc4" stroke-width="5.5" stroke-linecap="round"/>
<line x1="1760.97" y1="1276.17" x2="1772.9" y2="1284.8" stroke="#c2404e" stroke-width="5.5"/>
<circle cx="1757.8" cy="1211.1" r="8.4" fill="url(#gRed)"/>
<circle cx="1695.6" cy="1268.9" r="8.1" fill="url(#gRed)"/>
<circle cx="1812.9" cy="1262.8" r="7.8" fill="url(#gRed)"/>
<circle cx="1752.7" cy="1319.4" r="7.8" fill="url(#gRed)"/>
<circle cx="1772.9" cy="1284.8" r="8.7" fill="url(#gRed)"/>
<line x1="1697.7" y1="1231.3" x2="1822.5" y2="1225.6" stroke="#8a8a8a" stroke-width="0.8"/>
<line x1="1697.7" y1="1231.3" x2="1694.7" y2="1346.4" stroke="#8a8a8a" stroke-width="0.8"/>
<line x1="1694.7" y1="1346.4" x2="1815" y2="1337.4" stroke="#8a8a8a" stroke-width="0.8"/>
<line x1="1822.5" y1="1225.6" x2="1815" y2="1337.4" stroke="#8a8a8a" stroke-width="0.8"/>
<circle cx="1697.7" cy="1231.3" r="22.9" fill="url(#gGreenD)"/>
<circle cx="1822.5" cy="1225.6" r="22.6" fill="url(#gGreenD)"/>
<circle cx="1694.7" cy="1346.4" r="22.6" fill="url(#gGreenD)"/>
<circle cx="1815" cy="1337.4" r="21.7" fill="url(#gGreenD)"/>
<text x="1196.2" y="1129.6" font-size="33.3" textLength="84.3" lengthAdjust="spacing"><tspan font-style="italic">T</tspan> &gt; <tspan font-style="italic">T</tspan><tspan font-size="24" dy="6" dx="-1">c</tspan></text>
<text x="1701.6" y="1415" font-size="33.3" textLength="84.5" lengthAdjust="spacing"><tspan font-style="italic">T</tspan> &lt; <tspan font-style="italic">T</tspan><tspan font-size="24" dy="6" dx="-1">c</tspan></text>
</g>
</svg>
</body></html>
